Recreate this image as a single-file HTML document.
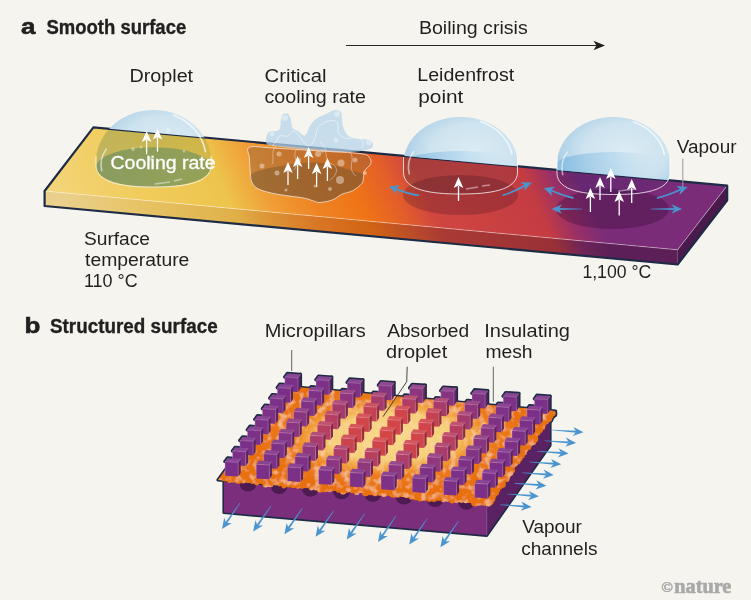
<!DOCTYPE html>
<html><head><meta charset="utf-8"><style>
html,body{margin:0;padding:0;background:#f6f4ee;}
svg{display:block;}
text{font-family:"Liberation Sans",sans-serif;}
</style></head><body>
<svg width="751" height="600" viewBox="0 0 751 600">
<rect width="751" height="600" fill="#f6f4ee"/>
<defs>
<linearGradient id="gTop" gradientUnits="userSpaceOnUse" x1="60" y1="200" x2="700" y2="-84">
 <stop offset="0" stop-color="#f3d478"/>
 <stop offset="0.1" stop-color="#f1cd5e"/>
 <stop offset="0.22" stop-color="#edc44c"/>
 <stop offset="0.27" stop-color="#f0a038"/>
 <stop offset="0.33" stop-color="#ef8424"/>
 <stop offset="0.39" stop-color="#ee7416"/>
 <stop offset="0.44" stop-color="#e35e2a"/>
 <stop offset="0.48" stop-color="#cf4640"/>
 <stop offset="0.62" stop-color="#c43c42"/>
 <stop offset="0.655" stop-color="#9a3066"/>
 <stop offset="0.69" stop-color="#7b2c78"/>
 <stop offset="1" stop-color="#7a2c78"/>
</linearGradient>
<linearGradient id="gFront" gradientUnits="userSpaceOnUse" x1="60" y1="200" x2="700" y2="-84">
 <stop offset="0" stop-color="#ead08c"/>
 <stop offset="0.1" stop-color="#e6c466"/>
 <stop offset="0.22" stop-color="#e0b048"/>
 <stop offset="0.27" stop-color="#dc9034"/>
 <stop offset="0.33" stop-color="#d87422"/>
 <stop offset="0.39" stop-color="#d06414"/>
 <stop offset="0.44" stop-color="#bc4c28"/>
 <stop offset="0.48" stop-color="#aa3a34"/>
 <stop offset="0.62" stop-color="#9a3036"/>
 <stop offset="0.655" stop-color="#6e2458"/>
 <stop offset="0.69" stop-color="#5c1f57"/>
 <stop offset="1" stop-color="#5a1d55"/>
</linearGradient>
<linearGradient id="gDomeOld" x1="0" y1="0" x2="1" y2="0.3">
 <stop offset="0" stop-color="#bcd8ea"/>
 <stop offset="0.5" stop-color="#d6e8f2"/>
 <stop offset="1" stop-color="#e4f0f6"/>
</linearGradient>
<radialGradient id="gPill" gradientUnits="userSpaceOnUse" cx="388" cy="432" r="125" gradientTransform="translate(388 432) scale(1 0.55) translate(-388 -432)">
 <stop offset="0" stop-color="#d44a48"/>
 <stop offset="0.35" stop-color="#c8445a"/>
 <stop offset="0.7" stop-color="#9a3a7a"/>
 <stop offset="1" stop-color="#7c3286"/>
</radialGradient>
<radialGradient id="gMesh" gradientUnits="userSpaceOnUse" cx="0" cy="0" r="1" gradientTransform="matrix(131 11.4 35.8 -50.7 391 437)">
 <stop offset="0" stop-color="#f8da8e"/>
 <stop offset="0.45" stop-color="#f6cf78"/>
 <stop offset="0.6" stop-color="#f2a440"/>
 <stop offset="0.75" stop-color="#ec7c1a"/>
 <stop offset="1" stop-color="#e8700f"/>
</radialGradient>
<filter id="mott" x="0" y="0" width="1" height="1" filterUnits="objectBoundingBox">
 <feTurbulence type="fractalNoise" baseFrequency="0.14" numOctaves="2" seed="4" result="n"/>
 <feColorMatrix in="n" type="matrix" values="0 0 0 0 0.97  0 0 0 0 0.70  0 0 0 0 0.40  0 0 0 1.8 -0.85" result="spots"/>
 <feComposite in="spots" in2="SourceGraphic" operator="in" result="s2"/>
 <feMerge><feMergeNode in="SourceGraphic"/><feMergeNode in="s2"/></feMerge>
</filter>
<radialGradient id="gDomeBg" cx="0.6" cy="0.45" r="0.62">
 <stop offset="0" stop-color="#dcecf4"/>
 <stop offset="0.6" stop-color="#cde3ef"/>
 <stop offset="1" stop-color="#a9cde6"/>
</radialGradient>
<linearGradient id="gBand" x1="0" y1="0" x2="1" y2="0">
 <stop offset="0" stop-color="#7fb8e0" stop-opacity="0.8"/>
 <stop offset="0.5" stop-color="#9ccae8" stop-opacity="0.45"/>
 <stop offset="1" stop-color="#cfe4f0" stop-opacity="0"/>
</linearGradient>
<linearGradient id="gDomeSl" x1="0" y1="0" x2="1" y2="0.4">
 <stop offset="0" stop-color="#c8dcec"/>
 <stop offset="1" stop-color="#e2eef6"/>
</linearGradient>
<clipPath id="clipBg"><polygon points="0,0 751,0 751,187.8 0,118.7"/></clipPath>
<clipPath id="clipSl"><polygon points="0,118.7 751,187.8 751,600 0,600"/></clipPath>
</defs>
<polygon points="44.6,191.0 677.6,249.8 677.6,264.5 44.6,206.0" fill="url(#gFront)"/>
<polygon points="677.6,249.8 727.2,185.6 727.2,200.3 677.6,264.5" fill="#4a1a4c"/>
<polygon points="93.4,127.3 727.2,185.6 677.6,249.8 44.6,191.0" fill="url(#gTop)"/>
<polyline points="44.6,191.0 677.6,249.8 727.2,185.6" fill="none" stroke="#ffffff" stroke-opacity="0.5" stroke-width="0.8"/>
<polygon points="93.4,127.3 727.2,185.6 727.2,200.3 677.6,264.5 44.6,206.0 44.6,191.0" fill="none" stroke="#1d2b45" stroke-width="2.2" stroke-linejoin="round"/>
<ellipse cx="153.6" cy="167.3" rx="57.6" ry="20" fill="#5f9466" opacity="0.5"/>
<path d="M96.0,162 A57.6,52 0 0 1 211.2,162 L211.2,165 C211.2,183.7 182.4,187.0 153.6,187.0 C124.8,187.0 96.0,183.7 96.0,165.0 Z" fill="url(#gDomeBg)" clip-path="url(#clipBg)"/>
<path d="M96.0,162 A57.6,52 0 0 1 211.2,162 L211.2,165 C211.2,183.7 182.4,187.0 153.6,187.0 C124.8,187.0 96.0,183.7 96.0,165.0 Z" fill="url(#gDomeSl)" clip-path="url(#clipSl)" style="mix-blend-mode:multiply"/>
<path d="M96.0,156 L96.0,165 C96.0,183.7 124.8,187.0 153.6,187.0 C182.4,187.0 211.2,183.7 211.2,165.0 L211.2,156" fill="none" stroke="#fff" stroke-opacity="0.85" stroke-width="0.9"/>
<path d="M173.76,115.19999999999999 A52.992000000000004,47.84 0 0 1 205.44,151.6" fill="none" stroke="#fff" stroke-opacity="0.7" stroke-width="1.6" stroke-linecap="round"/>
<path d="M101.75999999999999,170.75 Q98.88,159.4 106.368,149.0" fill="none" stroke="#fff" stroke-opacity="0.55" stroke-width="1.6" stroke-linecap="round"/>
<circle cx="133" cy="149" r="2" fill="#fff" opacity="0.35"/>
<circle cx="141" cy="147" r="1.5" fill="#fff" opacity="0.35"/>
<circle cx="184" cy="151" r="1.5" fill="#fff" opacity="0.35"/>
<circle cx="150" cy="159" r="2" fill="#fff" opacity="0.35"/>
<circle cx="168" cy="130" r="2" fill="#fff" opacity="0.35"/>
<path d="M155,184 L170,182 M174,181 L182,179" stroke="#fff" stroke-opacity="0.45" stroke-width="1.5"/>
<line x1="146.6" y1="154.3" x2="146.6" y2="140" stroke="#fff" stroke-width="1.3"/>
<polygon points="146.6,131.0 151.4,142.0 146.6,139.5 141.8,142.0" fill="#fff"/>
<line x1="157.5" y1="151.7" x2="157.5" y2="137.4" stroke="#fff" stroke-width="1.3"/>
<polygon points="157.5,128.4 162.3,139.4 157.5,136.9 152.7,139.4" fill="#fff"/>
<path d="M266.0,139.0 C266.3,137.0 266.8,133.5 269.0,132.0 C271.2,130.5 277.0,132.0 279.0,130.0 C281.0,128.0 280.3,122.6 281.0,120.0 C281.7,117.4 281.8,115.5 283.0,114.5 C284.2,113.5 286.7,113.1 288.0,114.0 C289.3,114.9 290.2,117.7 291.0,120.0 C291.8,122.3 291.3,126.2 292.5,128.0 C293.7,129.8 295.9,129.8 298.0,131.0 C300.1,132.2 303.0,136.3 305.0,135.5 C307.0,134.7 308.2,128.8 310.0,126.0 C311.8,123.2 313.3,121.0 316.0,119.0 C318.7,117.0 322.8,115.5 326.0,114.0 C329.2,112.5 332.5,110.3 335.0,110.0 C337.5,109.7 339.8,110.5 341.0,112.0 C342.2,113.5 341.6,116.3 342.0,119.0 C342.4,121.7 342.4,125.2 343.5,128.0 C344.6,130.8 345.8,134.2 348.5,136.0 C351.2,137.8 356.4,138.3 360.0,139.0 C363.6,139.7 367.8,139.0 370.0,140.0 C372.2,141.0 373.3,143.4 373.0,145.0 C372.7,146.6 372.7,148.3 368.0,149.5 C363.3,150.7 356.3,152.1 345.0,152.0 C333.7,151.9 311.8,150.0 300.0,149.0 C288.2,148.0 279.5,146.8 274.0,146.0 C268.5,145.2 268.3,145.2 267.0,144.0 C265.7,142.8 265.7,141.0 266.0,139.0 Z" fill="#b4d4ec" opacity="0.72"/>
<path d="M272,146 C280,140 276,134 284,136 C292,138 290,128 296,132 C302,138 306,150 312,144 C318,136 314,128 322,124 C330,118 340,120 338,128 C336,136 346,140 352,138 C360,136 366,142 362,148" fill="none" stroke="#fff" stroke-opacity="0.7" stroke-width="0.7"/>
<circle cx="285" cy="118" r="3" fill="#fff" opacity="0.35"/>
<circle cx="337" cy="114" r="3" fill="#fff" opacity="0.35"/>
<circle cx="369" cy="142" r="3" fill="#fff" opacity="0.35"/>
<circle cx="272" cy="134" r="2.5" fill="#fff" opacity="0.35"/>
<circle cx="336" cy="140" r="2.5" fill="#fff" opacity="0.35"/>
<circle cx="322" cy="152" r="2" fill="#fff" opacity="0.35"/>
<path d="M249.4,147.2 C253.3,145.5 261.2,147.4 273.0,148.0 C284.8,148.6 305.5,150.1 320.0,151.0 C334.5,151.9 351.8,152.6 360.0,153.6 C368.2,154.6 367.2,155.3 369.0,157.0 C370.8,158.7 371.6,161.2 370.8,163.5 C370.1,165.8 365.7,168.7 364.5,170.8 C363.3,172.9 364.1,173.9 363.6,176.0 C363.2,178.1 363.6,181.1 361.8,183.5 C360.0,185.9 356.0,188.9 352.7,190.7 C349.4,192.5 345.1,192.8 341.8,194.3 C338.5,195.8 336.4,198.4 332.8,199.8 C329.2,201.2 323.3,202.3 320.0,202.5 C316.7,202.7 315.5,201.4 312.8,200.7 C310.1,199.9 307.8,198.8 303.8,198.0 C299.8,197.2 294.1,196.8 289.0,196.0 C283.9,195.2 278.1,194.6 273.0,193.4 C267.9,192.2 262.0,190.8 258.5,189.0 C255.0,187.2 253.4,185.3 252.0,182.6 C250.6,179.9 250.7,176.7 250.3,172.6 C249.9,168.5 249.6,162.2 249.4,158.0 C249.2,153.8 245.5,148.9 249.4,147.2 Z" fill="#9a6438" opacity="0.5"/>
<path d="M251.0,174.4 C253.3,172.1 260.9,170.3 265.7,169.0 C270.5,167.7 274.6,167.2 280.0,166.3 C285.4,165.4 292.0,164.1 298.0,163.5 C304.0,162.9 309.9,162.3 316.0,162.6 C322.1,162.9 328.5,164.0 334.6,165.4 C340.7,166.8 347.9,169.3 352.7,170.8 C357.5,172.3 361.9,173.2 363.6,174.4 C365.3,175.6 363.3,176.5 363.0,178.0 C362.7,179.5 363.5,181.4 361.8,183.5 C360.1,185.6 356.0,188.9 352.7,190.7 C349.4,192.5 345.1,192.8 341.8,194.3 C338.5,195.8 336.4,198.4 332.8,199.8 C329.2,201.2 323.3,202.3 320.0,202.5 C316.7,202.7 315.5,201.4 312.8,200.7 C310.1,199.9 307.8,198.8 303.8,198.0 C299.8,197.2 294.1,196.8 289.0,196.0 C283.9,195.2 278.1,194.6 273.0,193.4 C267.9,192.2 262.0,190.8 258.5,189.0 C255.0,187.2 253.2,185.0 252.0,182.6 C250.8,180.2 248.7,176.7 251.0,174.4 Z" fill="#6e5030" opacity="0.42"/>
<path d="M249.4,147.2 C253.3,145.5 261.2,147.4 273.0,148.0 C284.8,148.6 305.5,150.1 320.0,151.0 C334.5,151.9 351.8,152.6 360.0,153.6 C368.2,154.6 367.2,155.3 369.0,157.0 C370.8,158.7 371.6,161.2 370.8,163.5 C370.1,165.8 365.7,168.7 364.5,170.8 C363.3,172.9 364.1,173.9 363.6,176.0 C363.2,178.1 363.6,181.1 361.8,183.5 C360.0,185.9 356.0,188.9 352.7,190.7 C349.4,192.5 345.1,192.8 341.8,194.3 C338.5,195.8 336.4,198.4 332.8,199.8 C329.2,201.2 323.3,202.3 320.0,202.5 C316.7,202.7 315.5,201.4 312.8,200.7 C310.1,199.9 307.8,198.8 303.8,198.0 C299.8,197.2 294.1,196.8 289.0,196.0 C283.9,195.2 278.1,194.6 273.0,193.4 C267.9,192.2 262.0,190.8 258.5,189.0 C255.0,187.2 253.4,185.3 252.0,182.6 C250.6,179.9 250.7,176.7 250.3,172.6 C249.9,168.5 249.6,162.2 249.4,158.0 C249.2,153.8 245.5,148.9 249.4,147.2 Z" fill="none" stroke="#fff" stroke-opacity="0.8" stroke-width="0.8"/>
<path d="M276,146 C270,152 275,160 272,164 M296,150 C292,158 300,162 294,170 M320,142 C330,148 322,160 332,164 C340,168 336,176 330,180 M350,152 C356,160 346,168 356,176" fill="none" stroke="#fff" stroke-opacity="0.55" stroke-width="0.7"/>
<circle cx="262" cy="166" r="2.5" fill="#fff" opacity="0.4"/>
<circle cx="279" cy="154" r="2.5" fill="#fff" opacity="0.4"/>
<circle cx="318" cy="154" r="3" fill="#fff" opacity="0.4"/>
<circle cx="341" cy="163" r="3.5" fill="#fff" opacity="0.4"/>
<circle cx="355" cy="160" r="2.5" fill="#fff" opacity="0.4"/>
<circle cx="277" cy="173" r="2.5" fill="#fff" opacity="0.4"/>
<circle cx="340" cy="180" r="4" fill="#fff" opacity="0.4"/>
<circle cx="286" cy="190" r="1.5" fill="#fff" opacity="0.4"/>
<circle cx="330" cy="189" r="2" fill="#fff" opacity="0.4"/>
<circle cx="315" cy="186" r="1.5" fill="#fff" opacity="0.4"/>
<circle cx="365" cy="173" r="2" fill="#fff" opacity="0.4"/>
<circle cx="299" cy="160" r="2" fill="#fff" opacity="0.4"/>
<line x1="288" y1="185" x2="288" y2="171" stroke="#fff" stroke-width="1.3"/>
<polygon points="288.0,162.0 292.8,173.0 288.0,170.5 283.2,173.0" fill="#fff"/>
<line x1="297.6" y1="179" x2="297.6" y2="165" stroke="#fff" stroke-width="1.3"/>
<polygon points="297.6,156.0 302.4,167.0 297.6,164.5 292.8,167.0" fill="#fff"/>
<line x1="308.6" y1="169" x2="308.6" y2="156" stroke="#fff" stroke-width="1.3"/>
<polygon points="308.6,147.0 313.4,158.0 308.6,155.5 303.8,158.0" fill="#fff"/>
<line x1="316.6" y1="187" x2="316.6" y2="172" stroke="#fff" stroke-width="1.3"/>
<polygon points="316.6,163.0 321.4,174.0 316.6,171.5 311.8,174.0" fill="#fff"/>
<line x1="327.4" y1="181" x2="327.4" y2="167" stroke="#fff" stroke-width="1.3"/>
<polygon points="327.4,158.0 332.2,169.0 327.4,166.5 322.6,169.0" fill="#fff"/>
<ellipse cx="460.5" cy="195" rx="57.5" ry="20" fill="rgba(60,15,30,0.25)"/>
<path d="M403.5,163 A57,46 0 0 1 517.5,163 L517.5,172 C517.5,190.7 489.0,194.0 460.5,194.0 C432.0,194.0 403.5,190.7 403.5,172.0 Z" fill="url(#gDomeBg)" clip-path="url(#clipBg)"/>
<path d="M403.5,163 A57,46 0 0 1 517.5,163 L517.5,172 C517.5,190.7 489.0,194.0 460.5,194.0 C432.0,194.0 403.5,190.7 403.5,172.0 Z" fill="url(#gDomeSl)" clip-path="url(#clipSl)" style="mix-blend-mode:multiply"/>
<path d="M403.5,163 A57,12 0 0 1 517.5,163 L517.5,172 C517.5,190.7 489.0,194.0 460.5,194.0 C432.0,194.0 403.5,190.7 403.5,172.0 Z" fill="url(#gBand)" clip-path="url(#clipBg)"/>
<path d="M403.5,157 L403.5,172 C403.5,190.7 432.0,194.0 460.5,194.0 C489.0,194.0 517.5,190.7 517.5,172.0 L517.5,157" fill="none" stroke="#fff" stroke-opacity="0.85" stroke-width="0.9"/>
<path d="M480.45,121.6 A52.440000000000005,42.32 0 0 1 511.8,153.8" fill="none" stroke="#fff" stroke-opacity="0.7" stroke-width="1.6" stroke-linecap="round"/>
<path d="M409.2,173.85 Q406.35,160.7 413.76,151.5" fill="none" stroke="#fff" stroke-opacity="0.55" stroke-width="1.6" stroke-linecap="round"/>
<line x1="458.5" y1="201" x2="458.5" y2="186" stroke="#fff" stroke-width="1.3"/>
<polygon points="458.5,177.0 463.3,188.0 458.5,185.5 453.7,188.0" fill="#fff"/>
<path d="M466,189 L478,187 M482,186 L490,185" stroke="#fff" stroke-opacity="0.45" stroke-width="1.6"/>
<path d="M419.0,195.4 Q408.5,194.0 395.7,188.8" fill="none" stroke="#4a95cf" stroke-width="1.8"/>
<polygon points="388.7,186.8 400.1,185.0 395.7,188.8 397.5,194.3" fill="#4a95cf"/>
<path d="M502.6,195.4 Q513.0,192.4 525.1,185.4" fill="none" stroke="#4a95cf" stroke-width="1.8"/>
<polygon points="531.8,182.4 524.2,191.1 525.1,185.4 520.3,182.3" fill="#4a95cf"/>
<ellipse cx="612.5" cy="209" rx="56.5" ry="20" fill="rgba(40,5,40,0.28)"/>
<path d="M557.0,164 A56.5,47 0 0 1 670.0,164 L670.0,173 C670.0,191.3 641.8,194.5 613.5,194.5 C585.2,194.5 557.0,191.3 557.0,173.0 Z" fill="url(#gDomeBg)" clip-path="url(#clipBg)"/>
<path d="M557.0,164 A56.5,47 0 0 1 670.0,164 L670.0,173 C670.0,191.3 641.8,194.5 613.5,194.5 C585.2,194.5 557.0,191.3 557.0,173.0 Z" fill="url(#gDomeSl)" clip-path="url(#clipSl)" style="mix-blend-mode:multiply"/>
<path d="M557.0,164 A56.5,12 0 0 1 670.0,164 L670.0,173 C670.0,191.3 641.8,194.5 613.5,194.5 C585.2,194.5 557.0,191.3 557.0,173.0 Z" fill="url(#gBand)" clip-path="url(#clipBg)"/>
<path d="M557.0,158 L557.0,173 C557.0,191.3 585.2,194.5 613.5,194.5 C641.8,194.5 670.0,191.3 670.0,173.0 L670.0,158" fill="none" stroke="#fff" stroke-opacity="0.85" stroke-width="0.9"/>
<path d="M633.275,121.69999999999999 A51.980000000000004,43.24 0 0 1 664.35,154.6" fill="none" stroke="#fff" stroke-opacity="0.7" stroke-width="1.6" stroke-linecap="round"/>
<path d="M562.65,174.675 Q559.825,161.65 567.17,152.25" fill="none" stroke="#fff" stroke-opacity="0.55" stroke-width="1.6" stroke-linecap="round"/>
<path d="M618,191 L636,189" stroke="#fff" stroke-opacity="0.45" stroke-width="1.4"/>
<line x1="590.4" y1="212" x2="590.4" y2="197" stroke="#fff" stroke-width="1.3"/>
<polygon points="590.4,188.0 595.2,199.0 590.4,196.5 585.6,199.0" fill="#fff"/>
<line x1="600" y1="200" x2="600" y2="186" stroke="#fff" stroke-width="1.3"/>
<polygon points="600.0,177.0 604.8,188.0 600.0,185.5 595.2,188.0" fill="#fff"/>
<line x1="610.8" y1="192" x2="610.8" y2="177" stroke="#fff" stroke-width="1.3"/>
<polygon points="610.8,168.0 615.6,179.0 610.8,176.5 606.0,179.0" fill="#fff"/>
<line x1="619.2" y1="215.5" x2="619.2" y2="200" stroke="#fff" stroke-width="1.3"/>
<polygon points="619.2,191.0 624.0,202.0 619.2,199.5 614.4,202.0" fill="#fff"/>
<line x1="631.7" y1="203" x2="631.7" y2="188" stroke="#fff" stroke-width="1.3"/>
<polygon points="631.7,179.0 636.5,190.0 631.7,187.5 626.9,190.0" fill="#fff"/>
<path d="M573.5,198.0 Q563.2,195.8 550.7,190.3" fill="none" stroke="#4a95cf" stroke-width="1.8"/>
<polygon points="543.8,188.0 555.3,186.8 550.7,190.3 552.2,195.9" fill="#4a95cf"/>
<polygon points="582.0,208.7 558.8,208.0 558.8,210.0 582.0,209.3" fill="#4a95cf"/>
<polygon points="551.5,209.0 562.0,204.2 558.8,209.0 562.0,213.8" fill="#4a95cf"/>
<path d="M657.0,198.0 Q667.8,195.4 680.8,189.5" fill="none" stroke="#4a95cf" stroke-width="1.8"/>
<polygon points="687.7,187.0 679.4,195.1 680.8,189.5 676.2,186.0" fill="#4a95cf"/>
<polygon points="650.4,209.3 674.7,210.0 674.7,208.0 650.4,208.7" fill="#4a95cf"/>
<polygon points="682.0,209.0 671.5,213.8 674.7,209.0 671.5,204.2" fill="#4a95cf"/>
<line x1="682.8" y1="158.5" x2="682.8" y2="187" stroke="#9a9a9a" stroke-width="1"/>
<line x1="346" y1="45.5" x2="597" y2="45.5" stroke="#2b2828" stroke-width="1.1"/>
<polygon points="605,45.5 593.5,40.8 596.5,45.5 593.5,50.2" fill="#231f20"/>
<g fill="#1d2b45" stroke="#1d2b45" stroke-width="3.2" stroke-linejoin="round"><polygon points="224.0,482.0 486.7,503.0 550.0,417.0 550.0,445.3 486.7,535.3 224.0,512.5"/><polygon points="218.0,480.0 488.5,504.5 555.5,411.0 286.0,386.0"/><circle cx="486.6" cy="503.1" r="2.5"/><circle cx="490.2" cy="501.4" r="3.5"/><circle cx="492.3" cy="498.7" r="3.2"/><circle cx="493.5" cy="495.2" r="3.1"/><circle cx="496.3" cy="493.0" r="2.7"/><circle cx="497.7" cy="489.7" r="2.6"/><circle cx="500.2" cy="487.2" r="2.2"/><circle cx="502.1" cy="484.2" r="3.7"/><circle cx="502.8" cy="480.5" r="3.1"/><circle cx="506.1" cy="478.5" r="3.6"/><circle cx="508.0" cy="475.6" r="2.6"/><circle cx="509.7" cy="472.5" r="3.7"/><circle cx="512.7" cy="470.4" r="2.4"/><circle cx="513.1" cy="466.4" r="2.4"/><circle cx="515.0" cy="463.5" r="2.9"/><circle cx="517.3" cy="460.8" r="3.6"/><circle cx="520.3" cy="458.7" r="2.4"/><circle cx="522.1" cy="455.7" r="2.7"/><circle cx="524.1" cy="452.8" r="2.6"/><circle cx="525.5" cy="449.5" r="2.5"/><circle cx="527.9" cy="446.9" r="3.3"/><circle cx="530.3" cy="444.4" r="2.3"/><circle cx="532.6" cy="441.7" r="3.6"/><circle cx="534.8" cy="439.0" r="3.5"/><circle cx="535.3" cy="435.1" r="2.9"/><circle cx="537.4" cy="432.3" r="3.4"/><circle cx="539.7" cy="429.7" r="3.3"/><circle cx="541.9" cy="426.9" r="3.3"/><circle cx="544.0" cy="424.2" r="2.3"/><circle cx="546.2" cy="421.5" r="2.7"/><circle cx="549.2" cy="419.3" r="2.7"/><circle cx="550.5" cy="415.9" r="3.1"/><circle cx="553.4" cy="413.7" r="2.4"/><polygon points="225.0,461.5 238.2,462.4 238.2,476.6 225.0,475.7 240.7,458.8 240.7,473.0"/><polygon points="225.0,461.5 227.5,457.9 240.7,458.8 238.2,462.4"/><polygon points="256.2,464.2 269.4,465.1 269.4,479.3 256.2,478.4 271.9,461.5 271.9,475.7"/><polygon points="256.2,464.2 258.7,460.6 271.9,461.5 269.4,465.1"/><polygon points="287.4,466.9 300.6,467.8 300.6,482.0 287.4,481.1 303.1,464.2 303.1,478.4"/><polygon points="287.4,466.9 289.9,463.3 303.1,464.2 300.6,467.8"/><polygon points="318.6,469.7 331.8,470.6 331.8,484.8 318.6,483.9 334.3,467.0 334.3,481.2"/><polygon points="318.6,469.7 321.1,466.1 334.3,467.0 331.8,470.6"/><polygon points="349.8,472.4 363.0,473.3 363.0,487.5 349.8,486.6 365.5,469.7 365.5,483.9"/><polygon points="349.8,472.4 352.3,468.8 365.5,469.7 363.0,473.3"/><polygon points="381.0,475.1 394.2,476.0 394.2,490.2 381.0,489.3 396.7,472.4 396.7,486.6"/><polygon points="381.0,475.1 383.5,471.5 396.7,472.4 394.2,476.0"/><polygon points="412.2,477.8 425.4,478.7 425.4,492.9 412.2,492.0 427.9,475.1 427.9,489.3"/><polygon points="412.2,477.8 414.7,474.2 427.9,475.1 425.4,478.7"/><polygon points="443.4,480.5 456.6,481.4 456.6,495.6 443.4,494.7 459.1,477.8 459.1,492.0"/><polygon points="443.4,480.5 445.9,476.9 459.1,477.8 456.6,481.4"/><polygon points="474.6,483.3 487.8,484.2 487.8,498.4 474.6,497.5 490.3,480.6 490.3,494.8"/><polygon points="474.6,483.3 477.1,479.7 490.3,480.6 487.8,484.2"/><polygon points="232.5,450.9 245.7,451.8 245.7,466.0 232.5,465.1 248.2,448.2 248.2,462.4"/><polygon points="232.5,450.9 235.0,447.3 248.2,448.2 245.7,451.8"/><polygon points="263.7,453.7 276.9,454.6 276.9,468.8 263.7,467.9 279.4,451.0 279.4,465.2"/><polygon points="263.7,453.7 266.2,450.1 279.4,451.0 276.9,454.6"/><polygon points="294.9,456.4 308.1,457.3 308.1,471.5 294.9,470.6 310.6,453.7 310.6,467.9"/><polygon points="294.9,456.4 297.4,452.8 310.6,453.7 308.1,457.3"/><polygon points="326.1,459.1 339.3,460.0 339.3,474.2 326.1,473.3 341.8,456.4 341.8,470.6"/><polygon points="326.1,459.1 328.6,455.5 341.8,456.4 339.3,460.0"/><polygon points="357.3,461.8 370.5,462.7 370.5,476.9 357.3,476.0 373.0,459.1 373.0,473.3"/><polygon points="357.3,461.8 359.8,458.2 373.0,459.1 370.5,462.7"/><polygon points="388.5,464.5 401.7,465.4 401.7,479.6 388.5,478.7 404.2,461.8 404.2,476.0"/><polygon points="388.5,464.5 391.0,460.9 404.2,461.8 401.7,465.4"/><polygon points="419.7,467.3 432.9,468.2 432.9,482.4 419.7,481.5 435.4,464.6 435.4,478.8"/><polygon points="419.7,467.3 422.2,463.7 435.4,464.6 432.9,468.2"/><polygon points="450.9,470.0 464.1,470.9 464.1,485.1 450.9,484.2 466.6,467.3 466.6,481.5"/><polygon points="450.9,470.0 453.4,466.4 466.6,467.3 464.1,470.9"/><polygon points="482.1,472.7 495.3,473.6 495.3,487.8 482.1,486.9 497.8,470.0 497.8,484.2"/><polygon points="482.1,472.7 484.6,469.1 497.8,470.0 495.3,473.6"/><polygon points="239.9,440.4 253.1,441.3 253.1,455.5 239.9,454.6 255.6,437.7 255.6,451.9"/><polygon points="239.9,440.4 242.4,436.8 255.6,437.7 253.1,441.3"/><polygon points="271.1,443.1 284.3,444.0 284.3,458.2 271.1,457.3 286.8,440.4 286.8,454.6"/><polygon points="271.1,443.1 273.6,439.5 286.8,440.4 284.3,444.0"/><polygon points="302.3,445.8 315.5,446.7 315.5,460.9 302.3,460.0 318.0,443.1 318.0,457.3"/><polygon points="302.3,445.8 304.8,442.2 318.0,443.1 315.5,446.7"/><polygon points="333.5,448.5 346.7,449.4 346.7,463.6 333.5,462.7 349.2,445.8 349.2,460.0"/><polygon points="333.5,448.5 336.0,444.9 349.2,445.8 346.7,449.4"/><polygon points="364.7,451.3 377.9,452.2 377.9,466.4 364.7,465.5 380.4,448.6 380.4,462.8"/><polygon points="364.7,451.3 367.2,447.7 380.4,448.6 377.9,452.2"/><polygon points="395.9,454.0 409.1,454.9 409.1,469.1 395.9,468.2 411.6,451.3 411.6,465.5"/><polygon points="395.9,454.0 398.4,450.4 411.6,451.3 409.1,454.9"/><polygon points="427.1,456.7 440.3,457.6 440.3,471.8 427.1,470.9 442.8,454.0 442.8,468.2"/><polygon points="427.1,456.7 429.6,453.1 442.8,454.0 440.3,457.6"/><polygon points="458.3,459.4 471.5,460.3 471.5,474.5 458.3,473.6 474.0,456.7 474.0,470.9"/><polygon points="458.3,459.4 460.8,455.8 474.0,456.7 471.5,460.3"/><polygon points="489.5,462.1 502.7,463.0 502.7,477.2 489.5,476.3 505.2,459.4 505.2,473.6"/><polygon points="489.5,462.1 492.0,458.5 505.2,459.4 502.7,463.0"/><polygon points="247.4,429.8 260.6,430.7 260.6,444.9 247.4,444.0 263.1,427.1 263.1,441.3"/><polygon points="247.4,429.8 249.9,426.2 263.1,427.1 260.6,430.7"/><polygon points="278.6,432.5 291.8,433.4 291.8,447.6 278.6,446.7 294.3,429.8 294.3,444.0"/><polygon points="278.6,432.5 281.1,428.9 294.3,429.8 291.8,433.4"/><polygon points="309.8,435.3 323.0,436.2 323.0,450.4 309.8,449.5 325.5,432.6 325.5,446.8"/><polygon points="309.8,435.3 312.3,431.7 325.5,432.6 323.0,436.2"/><polygon points="341.0,438.0 354.2,438.9 354.2,453.1 341.0,452.2 356.7,435.3 356.7,449.5"/><polygon points="341.0,438.0 343.5,434.4 356.7,435.3 354.2,438.9"/><polygon points="372.2,440.7 385.4,441.6 385.4,455.8 372.2,454.9 387.9,438.0 387.9,452.2"/><polygon points="372.2,440.7 374.7,437.1 387.9,438.0 385.4,441.6"/><polygon points="403.4,443.4 416.6,444.3 416.6,458.5 403.4,457.6 419.1,440.7 419.1,454.9"/><polygon points="403.4,443.4 405.9,439.8 419.1,440.7 416.6,444.3"/><polygon points="434.6,446.1 447.8,447.0 447.8,461.2 434.6,460.3 450.3,443.4 450.3,457.6"/><polygon points="434.6,446.1 437.1,442.5 450.3,443.4 447.8,447.0"/><polygon points="465.8,448.9 479.0,449.8 479.0,464.0 465.8,463.1 481.5,446.2 481.5,460.4"/><polygon points="465.8,448.9 468.3,445.3 481.5,446.2 479.0,449.8"/><polygon points="497.0,451.6 510.2,452.5 510.2,466.7 497.0,465.8 512.7,448.9 512.7,463.1"/><polygon points="497.0,451.6 499.5,448.0 512.7,448.9 510.2,452.5"/><polygon points="254.9,419.3 268.1,420.2 268.1,434.4 254.9,433.5 270.6,416.6 270.6,430.8"/><polygon points="254.9,419.3 257.4,415.7 270.6,416.6 268.1,420.2"/><polygon points="286.1,422.0 299.3,422.9 299.3,437.1 286.1,436.2 301.8,419.3 301.8,433.5"/><polygon points="286.1,422.0 288.6,418.4 301.8,419.3 299.3,422.9"/><polygon points="317.3,424.7 330.5,425.6 330.5,439.8 317.3,438.9 333.0,422.0 333.0,436.2"/><polygon points="317.3,424.7 319.8,421.1 333.0,422.0 330.5,425.6"/><polygon points="348.5,427.4 361.7,428.3 361.7,442.5 348.5,441.6 364.2,424.7 364.2,438.9"/><polygon points="348.5,427.4 351.0,423.8 364.2,424.7 361.7,428.3"/><polygon points="379.7,430.1 392.9,431.0 392.9,445.2 379.7,444.3 395.4,427.4 395.4,441.6"/><polygon points="379.7,430.1 382.2,426.5 395.4,427.4 392.9,431.0"/><polygon points="410.9,432.9 424.1,433.8 424.1,448.0 410.9,447.1 426.6,430.2 426.6,444.4"/><polygon points="410.9,432.9 413.4,429.3 426.6,430.2 424.1,433.8"/><polygon points="442.1,435.6 455.3,436.5 455.3,450.7 442.1,449.8 457.8,432.9 457.8,447.1"/><polygon points="442.1,435.6 444.6,432.0 457.8,432.9 455.3,436.5"/><polygon points="473.3,438.3 486.5,439.2 486.5,453.4 473.3,452.5 489.0,435.6 489.0,449.8"/><polygon points="473.3,438.3 475.8,434.7 489.0,435.6 486.5,439.2"/><polygon points="504.5,441.0 517.7,441.9 517.7,456.1 504.5,455.2 520.2,438.3 520.2,452.5"/><polygon points="504.5,441.0 507.0,437.4 520.2,438.3 517.7,441.9"/><polygon points="262.4,408.7 275.6,409.6 275.6,423.8 262.4,422.9 278.1,406.0 278.1,420.2"/><polygon points="262.4,408.7 264.9,405.1 278.1,406.0 275.6,409.6"/><polygon points="293.6,411.4 306.8,412.3 306.8,426.5 293.6,425.6 309.2,408.7 309.2,422.9"/><polygon points="293.6,411.4 296.1,407.8 309.2,408.7 306.8,412.3"/><polygon points="324.8,414.1 337.9,415.0 337.9,429.2 324.8,428.3 340.4,411.4 340.4,425.6"/><polygon points="324.8,414.1 327.2,410.5 340.4,411.4 337.9,415.0"/><polygon points="356.0,416.9 369.2,417.8 369.2,432.0 356.0,431.1 371.7,414.2 371.7,428.4"/><polygon points="356.0,416.9 358.5,413.3 371.7,414.2 369.2,417.8"/><polygon points="387.2,419.6 400.4,420.5 400.4,434.7 387.2,433.8 402.9,416.9 402.9,431.1"/><polygon points="387.2,419.6 389.7,416.0 402.9,416.9 400.4,420.5"/><polygon points="418.4,422.3 431.6,423.2 431.6,437.4 418.4,436.5 434.1,419.6 434.1,433.8"/><polygon points="418.4,422.3 420.9,418.7 434.1,419.6 431.6,423.2"/><polygon points="449.6,425.0 462.8,425.9 462.8,440.1 449.6,439.2 465.2,422.3 465.2,436.5"/><polygon points="449.6,425.0 452.1,421.4 465.2,422.3 462.8,425.9"/><polygon points="480.8,427.7 493.9,428.6 493.9,442.8 480.8,441.9 496.4,425.0 496.4,439.2"/><polygon points="480.8,427.7 483.2,424.1 496.4,425.0 493.9,428.6"/><polygon points="512.0,430.5 525.2,431.4 525.2,445.6 512.0,444.7 527.7,427.8 527.7,442.0"/><polygon points="512.0,430.5 514.5,426.9 527.7,427.8 525.2,431.4"/><polygon points="269.8,398.1 283.0,399.0 283.0,413.2 269.8,412.3 285.5,395.4 285.5,409.6"/><polygon points="269.8,398.1 272.3,394.5 285.5,395.4 283.0,399.0"/><polygon points="301.0,400.9 314.2,401.8 314.2,416.0 301.0,415.1 316.7,398.2 316.7,412.4"/><polygon points="301.0,400.9 303.5,397.3 316.7,398.2 314.2,401.8"/><polygon points="332.2,403.6 345.4,404.5 345.4,418.7 332.2,417.8 347.9,400.9 347.9,415.1"/><polygon points="332.2,403.6 334.7,400.0 347.9,400.9 345.4,404.5"/><polygon points="363.4,406.3 376.6,407.2 376.6,421.4 363.4,420.5 379.1,403.6 379.1,417.8"/><polygon points="363.4,406.3 365.9,402.7 379.1,403.6 376.6,407.2"/><polygon points="394.6,409.0 407.8,409.9 407.8,424.1 394.6,423.2 410.3,406.3 410.3,420.5"/><polygon points="394.6,409.0 397.1,405.4 410.3,406.3 407.8,409.9"/><polygon points="425.8,411.7 439.0,412.6 439.0,426.8 425.8,425.9 441.5,409.0 441.5,423.2"/><polygon points="425.8,411.7 428.3,408.1 441.5,409.0 439.0,412.6"/><polygon points="457.0,414.5 470.2,415.4 470.2,429.6 457.0,428.7 472.7,411.8 472.7,426.0"/><polygon points="457.0,414.5 459.5,410.9 472.7,411.8 470.2,415.4"/><polygon points="488.2,417.2 501.4,418.1 501.4,432.3 488.2,431.4 503.9,414.5 503.9,428.7"/><polygon points="488.2,417.2 490.7,413.6 503.9,414.5 501.4,418.1"/><polygon points="519.4,419.9 532.6,420.8 532.6,435.0 519.4,434.1 535.1,417.2 535.1,431.4"/><polygon points="519.4,419.9 521.9,416.3 535.1,417.2 532.6,420.8"/><polygon points="277.3,387.6 290.5,388.5 290.5,402.7 277.3,401.8 293.0,384.9 293.0,399.1"/><polygon points="277.3,387.6 279.8,384.0 293.0,384.9 290.5,388.5"/><polygon points="308.5,390.3 321.7,391.2 321.7,405.4 308.5,404.5 324.2,387.6 324.2,401.8"/><polygon points="308.5,390.3 311.0,386.7 324.2,387.6 321.7,391.2"/><polygon points="339.7,393.0 352.9,393.9 352.9,408.1 339.7,407.2 355.4,390.3 355.4,404.5"/><polygon points="339.7,393.0 342.2,389.4 355.4,390.3 352.9,393.9"/><polygon points="370.9,395.7 384.1,396.6 384.1,410.8 370.9,409.9 386.6,393.0 386.6,407.2"/><polygon points="370.9,395.7 373.4,392.1 386.6,393.0 384.1,396.6"/><polygon points="402.1,398.5 415.3,399.4 415.3,413.6 402.1,412.7 417.8,395.8 417.8,410.0"/><polygon points="402.1,398.5 404.6,394.9 417.8,395.8 415.3,399.4"/><polygon points="433.3,401.2 446.5,402.1 446.5,416.3 433.3,415.4 449.0,398.5 449.0,412.7"/><polygon points="433.3,401.2 435.8,397.6 449.0,398.5 446.5,402.1"/><polygon points="464.5,403.9 477.7,404.8 477.7,419.0 464.5,418.1 480.2,401.2 480.2,415.4"/><polygon points="464.5,403.9 467.0,400.3 480.2,401.2 477.7,404.8"/><polygon points="495.7,406.6 508.9,407.5 508.9,421.7 495.7,420.8 511.4,403.9 511.4,418.1"/><polygon points="495.7,406.6 498.2,403.0 511.4,403.9 508.9,407.5"/><polygon points="526.9,409.3 540.1,410.2 540.1,424.4 526.9,423.5 542.6,406.6 542.6,420.8"/><polygon points="526.9,409.3 529.4,405.7 542.6,406.6 540.1,410.2"/><polygon points="284.8,377.0 298.0,377.9 298.0,392.1 284.8,391.2 300.5,374.3 300.5,388.5"/><polygon points="284.8,377.0 287.3,373.4 300.5,374.3 298.0,377.9"/><polygon points="316.0,379.7 329.2,380.6 329.2,394.8 316.0,393.9 331.7,377.0 331.7,391.2"/><polygon points="316.0,379.7 318.5,376.1 331.7,377.0 329.2,380.6"/><polygon points="347.2,382.5 360.4,383.4 360.4,397.6 347.2,396.7 362.9,379.8 362.9,394.0"/><polygon points="347.2,382.5 349.7,378.9 362.9,379.8 360.4,383.4"/><polygon points="378.4,385.2 391.6,386.1 391.6,400.3 378.4,399.4 394.1,382.5 394.1,396.7"/><polygon points="378.4,385.2 380.9,381.6 394.1,382.5 391.6,386.1"/><polygon points="409.6,387.9 422.8,388.8 422.8,403.0 409.6,402.1 425.3,385.2 425.3,399.4"/><polygon points="409.6,387.9 412.1,384.3 425.3,385.2 422.8,388.8"/><polygon points="440.8,390.6 454.0,391.5 454.0,405.7 440.8,404.8 456.5,387.9 456.5,402.1"/><polygon points="440.8,390.6 443.3,387.0 456.5,387.9 454.0,391.5"/><polygon points="472.0,393.3 485.2,394.2 485.2,408.4 472.0,407.5 487.7,390.6 487.7,404.8"/><polygon points="472.0,393.3 474.5,389.7 487.7,390.6 485.2,394.2"/><polygon points="503.2,396.1 516.4,397.0 516.4,411.2 503.2,410.3 518.9,393.4 518.9,407.6"/><polygon points="503.2,396.1 505.7,392.5 518.9,393.4 516.4,397.0"/><polygon points="534.4,398.8 547.6,399.7 547.6,413.9 534.4,413.0 550.1,396.1 550.1,410.3"/><polygon points="534.4,398.8 536.9,395.2 550.1,396.1 547.6,399.7"/></g>
<polygon points="224.0,482.0 486.7,503.0 486.7,535.3 224.0,512.5" fill="#7a2e7c"/>
<polygon points="486.7,503.0 550.0,417.0 550.0,445.3 486.7,535.3" fill="#5a2262"/>
<line x1="486.7" y1="503" x2="486.7" y2="535.3" stroke="#c080c0" stroke-width="0.8" opacity="0.6"/>
<path d="M239.5,483.5 A8.5,8 0 0 0 256.5,483.5 Z" fill="#4e1a52"/>
<path d="M270.7,486.1 A8.5,8 0 0 0 287.7,486.1 Z" fill="#4e1a52"/>
<path d="M301.9,488.7 A8.5,8 0 0 0 318.9,488.7 Z" fill="#4e1a52"/>
<path d="M333.1,491.3 A8.5,8 0 0 0 350.1,491.3 Z" fill="#4e1a52"/>
<path d="M364.3,493.9 A8.5,8 0 0 0 381.3,493.9 Z" fill="#4e1a52"/>
<path d="M395.5,496.5 A8.5,8 0 0 0 412.5,496.5 Z" fill="#4e1a52"/>
<path d="M426.7,499.1 A8.5,8 0 0 0 443.7,499.1 Z" fill="#4e1a52"/>
<path d="M457.9,501.7 A8.5,8 0 0 0 474.9,501.7 Z" fill="#4e1a52"/>
<g filter="url(#mott)"><g fill="url(#gMesh)"><polygon points="218.0,480.0 488.5,504.5 555.5,411.0 286.0,386.0"/><circle cx="225.0" cy="478.3" r="3.3"/><circle cx="229.4" cy="479.9" r="3.0"/><circle cx="234.1" cy="479.3" r="3.5"/><circle cx="238.5" cy="481.1" r="3.0"/><circle cx="243.1" cy="480.8" r="2.6"/><circle cx="247.7" cy="480.0" r="2.8"/><circle cx="252.2" cy="481.8" r="2.3"/><circle cx="256.7" cy="482.7" r="2.6"/><circle cx="261.3" cy="481.8" r="2.3"/><circle cx="265.7" cy="484.0" r="3.4"/><circle cx="270.3" cy="484.1" r="3.2"/><circle cx="275.0" cy="482.5" r="2.7"/><circle cx="279.5" cy="484.1" r="2.4"/><circle cx="283.9" cy="485.6" r="2.8"/><circle cx="288.6" cy="484.1" r="3.5"/><circle cx="293.2" cy="484.4" r="3.7"/><circle cx="297.7" cy="485.6" r="3.1"/><circle cx="302.2" cy="485.7" r="3.0"/><circle cx="306.8" cy="485.8" r="2.3"/><circle cx="311.2" cy="487.8" r="2.6"/><circle cx="315.8" cy="488.0" r="2.5"/><circle cx="320.3" cy="488.9" r="3.6"/><circle cx="324.9" cy="488.8" r="3.4"/><circle cx="329.5" cy="488.8" r="3.4"/><circle cx="334.1" cy="488.1" r="3.0"/><circle cx="338.5" cy="490.2" r="2.5"/><circle cx="343.0" cy="490.8" r="3.6"/><circle cx="347.7" cy="490.0" r="2.8"/><circle cx="352.2" cy="490.5" r="2.8"/><circle cx="356.7" cy="492.2" r="2.8"/><circle cx="361.4" cy="490.3" r="2.3"/><circle cx="365.8" cy="492.4" r="3.8"/><circle cx="370.4" cy="492.3" r="3.0"/><circle cx="374.9" cy="492.8" r="3.4"/><circle cx="379.6" cy="492.5" r="3.2"/><circle cx="384.0" cy="493.7" r="3.2"/><circle cx="388.7" cy="493.2" r="2.5"/><circle cx="393.2" cy="494.0" r="3.7"/><circle cx="397.7" cy="494.4" r="3.2"/><circle cx="402.3" cy="494.7" r="2.4"/><circle cx="406.9" cy="494.6" r="3.5"/><circle cx="411.3" cy="496.7" r="2.8"/><circle cx="415.8" cy="496.9" r="3.3"/><circle cx="420.3" cy="497.8" r="3.7"/><circle cx="425.0" cy="497.0" r="3.8"/><circle cx="429.4" cy="498.8" r="3.1"/><circle cx="434.0" cy="499.0" r="3.0"/><circle cx="438.6" cy="498.2" r="2.6"/><circle cx="443.1" cy="499.8" r="2.5"/><circle cx="447.8" cy="498.3" r="3.5"/><circle cx="452.2" cy="500.4" r="3.0"/><circle cx="456.7" cy="500.9" r="2.3"/><circle cx="461.4" cy="500.0" r="2.7"/><circle cx="465.9" cy="500.8" r="2.5"/><circle cx="470.5" cy="500.3" r="2.7"/><circle cx="474.9" cy="502.7" r="3.8"/><circle cx="479.5" cy="502.8" r="3.0"/><circle cx="484.1" cy="502.0" r="3.7"/><circle cx="488.6" cy="503.1" r="3.4"/><circle cx="486.6" cy="503.1" r="2.5"/><circle cx="490.2" cy="501.4" r="3.5"/><circle cx="492.3" cy="498.7" r="3.2"/><circle cx="493.5" cy="495.2" r="3.1"/><circle cx="496.3" cy="493.0" r="2.7"/><circle cx="497.7" cy="489.7" r="2.6"/><circle cx="500.2" cy="487.2" r="2.2"/><circle cx="502.1" cy="484.2" r="3.7"/><circle cx="502.8" cy="480.5" r="3.1"/><circle cx="506.1" cy="478.5" r="3.6"/><circle cx="508.0" cy="475.6" r="2.6"/><circle cx="509.7" cy="472.5" r="3.7"/><circle cx="512.7" cy="470.4" r="2.4"/><circle cx="513.1" cy="466.4" r="2.4"/><circle cx="515.0" cy="463.5" r="2.9"/><circle cx="517.3" cy="460.8" r="3.6"/><circle cx="520.3" cy="458.7" r="2.4"/><circle cx="522.1" cy="455.7" r="2.7"/><circle cx="524.1" cy="452.8" r="2.6"/><circle cx="525.5" cy="449.5" r="2.5"/><circle cx="527.9" cy="446.9" r="3.3"/><circle cx="530.3" cy="444.4" r="2.3"/><circle cx="532.6" cy="441.7" r="3.6"/><circle cx="534.8" cy="439.0" r="3.5"/><circle cx="535.3" cy="435.1" r="2.9"/><circle cx="537.4" cy="432.3" r="3.4"/><circle cx="539.7" cy="429.7" r="3.3"/><circle cx="541.9" cy="426.9" r="3.3"/><circle cx="544.0" cy="424.2" r="2.3"/><circle cx="546.2" cy="421.5" r="2.7"/><circle cx="549.2" cy="419.3" r="2.7"/><circle cx="550.5" cy="415.9" r="3.1"/><circle cx="553.4" cy="413.7" r="2.4"/></g></g>
<polygon points="284.8,377.0 298.0,377.9 298.0,392.1 284.8,391.2" fill="#7a3088"/>
<polygon points="298.0,377.9 300.5,374.3 300.5,388.5 298.0,392.1" fill="#582362"/>
<polygon points="284.8,377.0 287.3,373.4 300.5,374.3 298.0,377.9" fill="#874594"/>
<polyline points="284.8,391.2 284.8,377.0 298.0,377.9 300.5,374.3" fill="none" stroke="#f4b8e4" stroke-opacity="0.5" stroke-width="0.6"/>
<line x1="298.0" y1="377.9" x2="298.0" y2="392.1" stroke="#f4b8e4" stroke-opacity="0.5" stroke-width="0.6"/>
<polygon points="316.0,379.7 329.2,380.6 329.2,394.8 316.0,393.9" fill="#7b3187"/>
<polygon points="329.2,380.6 331.7,377.0 331.7,391.2 329.2,394.8" fill="#592362"/>
<polygon points="316.0,379.7 318.5,376.1 331.7,377.0 329.2,380.6" fill="#884593"/>
<polyline points="316.0,393.9 316.0,379.7 329.2,380.6 331.7,377.0" fill="none" stroke="#f4b8e4" stroke-opacity="0.5" stroke-width="0.6"/>
<line x1="329.2" y1="380.6" x2="329.2" y2="394.8" stroke="#f4b8e4" stroke-opacity="0.5" stroke-width="0.6"/>
<polygon points="347.2,382.5 360.4,383.4 360.4,397.6 347.2,396.7" fill="#7d3286"/>
<polygon points="360.4,383.4 362.9,379.8 362.9,394.0 360.4,397.6" fill="#5a2461"/>
<polygon points="347.2,382.5 349.7,378.9 362.9,379.8 360.4,383.4" fill="#8a4692"/>
<polyline points="347.2,396.7 347.2,382.5 360.4,383.4 362.9,379.8" fill="none" stroke="#f4b8e4" stroke-opacity="0.5" stroke-width="0.6"/>
<line x1="360.4" y1="383.4" x2="360.4" y2="397.6" stroke="#f4b8e4" stroke-opacity="0.5" stroke-width="0.6"/>
<polygon points="378.4,385.2 391.6,386.1 391.6,400.3 378.4,399.4" fill="#853482"/>
<polygon points="391.6,386.1 394.1,382.5 394.1,396.7 391.6,400.3" fill="#60255e"/>
<polygon points="378.4,385.2 380.9,381.6 394.1,382.5 391.6,386.1" fill="#92488e"/>
<polyline points="378.4,399.4 378.4,385.2 391.6,386.1 394.1,382.5" fill="none" stroke="#f4b8e4" stroke-opacity="0.5" stroke-width="0.6"/>
<line x1="391.6" y1="386.1" x2="391.6" y2="400.3" stroke="#f4b8e4" stroke-opacity="0.5" stroke-width="0.6"/>
<polygon points="409.6,387.9 422.8,388.8 422.8,403.0 409.6,402.1" fill="#8b367f"/>
<polygon points="422.8,388.8 425.3,385.2 425.3,399.4 422.8,403.0" fill="#64275b"/>
<polygon points="409.6,387.9 412.1,384.3 425.3,385.2 422.8,388.8" fill="#974a8c"/>
<polyline points="409.6,402.1 409.6,387.9 422.8,388.8 425.3,385.2" fill="none" stroke="#f4b8e4" stroke-opacity="0.5" stroke-width="0.6"/>
<line x1="422.8" y1="388.8" x2="422.8" y2="403.0" stroke="#f4b8e4" stroke-opacity="0.5" stroke-width="0.6"/>
<polygon points="440.8,390.6 454.0,391.5 454.0,405.7 440.8,404.8" fill="#853482"/>
<polygon points="454.0,391.5 456.5,387.9 456.5,402.1 454.0,405.7" fill="#60255e"/>
<polygon points="440.8,390.6 443.3,387.0 456.5,387.9 454.0,391.5" fill="#92488e"/>
<polyline points="440.8,404.8 440.8,390.6 454.0,391.5 456.5,387.9" fill="none" stroke="#f4b8e4" stroke-opacity="0.5" stroke-width="0.6"/>
<line x1="454.0" y1="391.5" x2="454.0" y2="405.7" stroke="#f4b8e4" stroke-opacity="0.5" stroke-width="0.6"/>
<polygon points="472.0,393.3 485.2,394.2 485.2,408.4 472.0,407.5" fill="#7d3286"/>
<polygon points="485.2,394.2 487.7,390.6 487.7,404.8 485.2,408.4" fill="#5a2461"/>
<polygon points="472.0,393.3 474.5,389.7 487.7,390.6 485.2,394.2" fill="#8a4692"/>
<polyline points="472.0,407.5 472.0,393.3 485.2,394.2 487.7,390.6" fill="none" stroke="#f4b8e4" stroke-opacity="0.5" stroke-width="0.6"/>
<line x1="485.2" y1="394.2" x2="485.2" y2="408.4" stroke="#f4b8e4" stroke-opacity="0.5" stroke-width="0.6"/>
<polygon points="503.2,396.1 516.4,397.0 516.4,411.2 503.2,410.3" fill="#7b3187"/>
<polygon points="516.4,397.0 518.9,393.4 518.9,407.6 516.4,411.2" fill="#592362"/>
<polygon points="503.2,396.1 505.7,392.5 518.9,393.4 516.4,397.0" fill="#884593"/>
<polyline points="503.2,410.3 503.2,396.1 516.4,397.0 518.9,393.4" fill="none" stroke="#f4b8e4" stroke-opacity="0.5" stroke-width="0.6"/>
<line x1="516.4" y1="397.0" x2="516.4" y2="411.2" stroke="#f4b8e4" stroke-opacity="0.5" stroke-width="0.6"/>
<polygon points="534.4,398.8 547.6,399.7 547.6,413.9 534.4,413.0" fill="#7a3088"/>
<polygon points="547.6,399.7 550.1,396.1 550.1,410.3 547.6,413.9" fill="#582362"/>
<polygon points="534.4,398.8 536.9,395.2 550.1,396.1 547.6,399.7" fill="#874594"/>
<polyline points="534.4,413.0 534.4,398.8 547.6,399.7 550.1,396.1" fill="none" stroke="#f4b8e4" stroke-opacity="0.5" stroke-width="0.6"/>
<line x1="547.6" y1="399.7" x2="547.6" y2="413.9" stroke="#f4b8e4" stroke-opacity="0.5" stroke-width="0.6"/>
<polygon points="277.3,387.6 290.5,388.5 290.5,402.7 277.3,401.8" fill="#7a3088"/>
<polygon points="290.5,388.5 293.0,384.9 293.0,399.1 290.5,402.7" fill="#582362"/>
<polygon points="277.3,387.6 279.8,384.0 293.0,384.9 290.5,388.5" fill="#874594"/>
<polyline points="277.3,401.8 277.3,387.6 290.5,388.5 293.0,384.9" fill="none" stroke="#f4b8e4" stroke-opacity="0.5" stroke-width="0.6"/>
<line x1="290.5" y1="388.5" x2="290.5" y2="402.7" stroke="#f4b8e4" stroke-opacity="0.5" stroke-width="0.6"/>
<polygon points="308.5,390.3 321.7,391.2 321.7,405.4 308.5,404.5" fill="#7d3187"/>
<polygon points="321.7,391.2 324.2,387.6 324.2,401.8 321.7,405.4" fill="#5a2461"/>
<polygon points="308.5,390.3 311.0,386.7 324.2,387.6 321.7,391.2" fill="#8a4693"/>
<polyline points="308.5,404.5 308.5,390.3 321.7,391.2 324.2,387.6" fill="none" stroke="#f4b8e4" stroke-opacity="0.5" stroke-width="0.6"/>
<line x1="321.7" y1="391.2" x2="321.7" y2="405.4" stroke="#f4b8e4" stroke-opacity="0.5" stroke-width="0.6"/>
<polygon points="339.7,393.0 352.9,393.9 352.9,408.1 339.7,407.2" fill="#8d367e"/>
<polygon points="352.9,393.9 355.4,390.3 355.4,404.5 352.9,408.1" fill="#65275b"/>
<polygon points="339.7,393.0 342.2,389.4 355.4,390.3 352.9,393.9" fill="#984a8b"/>
<polyline points="339.7,407.2 339.7,393.0 352.9,393.9 355.4,390.3" fill="none" stroke="#f4b8e4" stroke-opacity="0.5" stroke-width="0.6"/>
<line x1="352.9" y1="393.9" x2="352.9" y2="408.1" stroke="#f4b8e4" stroke-opacity="0.5" stroke-width="0.6"/>
<polygon points="370.9,395.7 384.1,396.6 384.1,410.8 370.9,409.9" fill="#a63b6c"/>
<polygon points="384.1,396.6 386.6,393.0 386.6,407.2 384.1,410.8" fill="#782b4e"/>
<polygon points="370.9,395.7 373.4,392.1 386.6,393.0 384.1,396.6" fill="#af4f7b"/>
<polyline points="370.9,409.9 370.9,395.7 384.1,396.6 386.6,393.0" fill="none" stroke="#f4b8e4" stroke-opacity="0.5" stroke-width="0.6"/>
<line x1="384.1" y1="396.6" x2="384.1" y2="410.8" stroke="#f4b8e4" stroke-opacity="0.5" stroke-width="0.6"/>
<polygon points="402.1,398.5 415.3,399.4 415.3,413.6 402.1,412.7" fill="#b13d64"/>
<polygon points="415.3,399.4 417.8,395.8 417.8,410.0 415.3,413.6" fill="#802c48"/>
<polygon points="402.1,398.5 404.6,394.9 417.8,395.8 415.3,399.4" fill="#b95174"/>
<polyline points="402.1,412.7 402.1,398.5 415.3,399.4 417.8,395.8" fill="none" stroke="#f4b8e4" stroke-opacity="0.5" stroke-width="0.6"/>
<line x1="415.3" y1="399.4" x2="415.3" y2="413.6" stroke="#f4b8e4" stroke-opacity="0.5" stroke-width="0.6"/>
<polygon points="433.3,401.2 446.5,402.1 446.5,416.3 433.3,415.4" fill="#a63b6c"/>
<polygon points="446.5,402.1 449.0,398.5 449.0,412.7 446.5,416.3" fill="#782b4e"/>
<polygon points="433.3,401.2 435.8,397.6 449.0,398.5 446.5,402.1" fill="#af4f7b"/>
<polyline points="433.3,415.4 433.3,401.2 446.5,402.1 449.0,398.5" fill="none" stroke="#f4b8e4" stroke-opacity="0.5" stroke-width="0.6"/>
<line x1="446.5" y1="402.1" x2="446.5" y2="416.3" stroke="#f4b8e4" stroke-opacity="0.5" stroke-width="0.6"/>
<polygon points="464.5,403.9 477.7,404.8 477.7,419.0 464.5,418.1" fill="#8d367e"/>
<polygon points="477.7,404.8 480.2,401.2 480.2,415.4 477.7,419.0" fill="#65275b"/>
<polygon points="464.5,403.9 467.0,400.3 480.2,401.2 477.7,404.8" fill="#984a8b"/>
<polyline points="464.5,418.1 464.5,403.9 477.7,404.8 480.2,401.2" fill="none" stroke="#f4b8e4" stroke-opacity="0.5" stroke-width="0.6"/>
<line x1="477.7" y1="404.8" x2="477.7" y2="419.0" stroke="#f4b8e4" stroke-opacity="0.5" stroke-width="0.6"/>
<polygon points="495.7,406.6 508.9,407.5 508.9,421.7 495.7,420.8" fill="#7d3187"/>
<polygon points="508.9,407.5 511.4,403.9 511.4,418.1 508.9,421.7" fill="#5a2461"/>
<polygon points="495.7,406.6 498.2,403.0 511.4,403.9 508.9,407.5" fill="#8a4693"/>
<polyline points="495.7,420.8 495.7,406.6 508.9,407.5 511.4,403.9" fill="none" stroke="#f4b8e4" stroke-opacity="0.5" stroke-width="0.6"/>
<line x1="508.9" y1="407.5" x2="508.9" y2="421.7" stroke="#f4b8e4" stroke-opacity="0.5" stroke-width="0.6"/>
<polygon points="526.9,409.3 540.1,410.2 540.1,424.4 526.9,423.5" fill="#7a3088"/>
<polygon points="540.1,410.2 542.6,406.6 542.6,420.8 540.1,424.4" fill="#582362"/>
<polygon points="526.9,409.3 529.4,405.7 542.6,406.6 540.1,410.2" fill="#874594"/>
<polyline points="526.9,423.5 526.9,409.3 540.1,410.2 542.6,406.6" fill="none" stroke="#f4b8e4" stroke-opacity="0.5" stroke-width="0.6"/>
<line x1="540.1" y1="410.2" x2="540.1" y2="424.4" stroke="#f4b8e4" stroke-opacity="0.5" stroke-width="0.6"/>
<polygon points="269.8,398.1 283.0,399.0 283.0,413.2 269.8,412.3" fill="#7b3187"/>
<polygon points="283.0,399.0 285.5,395.4 285.5,409.6 283.0,413.2" fill="#592362"/>
<polygon points="269.8,398.1 272.3,394.5 285.5,395.4 283.0,399.0" fill="#884593"/>
<polyline points="269.8,412.3 269.8,398.1 283.0,399.0 285.5,395.4" fill="none" stroke="#f4b8e4" stroke-opacity="0.5" stroke-width="0.6"/>
<line x1="283.0" y1="399.0" x2="283.0" y2="413.2" stroke="#f4b8e4" stroke-opacity="0.5" stroke-width="0.6"/>
<polygon points="301.0,400.9 314.2,401.8 314.2,416.0 301.0,415.1" fill="#803385"/>
<polygon points="314.2,401.8 316.7,398.2 316.7,412.4 314.2,416.0" fill="#5c2460"/>
<polygon points="301.0,400.9 303.5,397.3 316.7,398.2 314.2,401.8" fill="#8d4791"/>
<polyline points="301.0,415.1 301.0,400.9 314.2,401.8 316.7,398.2" fill="none" stroke="#f4b8e4" stroke-opacity="0.5" stroke-width="0.6"/>
<line x1="314.2" y1="401.8" x2="314.2" y2="416.0" stroke="#f4b8e4" stroke-opacity="0.5" stroke-width="0.6"/>
<polygon points="332.2,403.6 345.4,404.5 345.4,418.7 332.2,417.8" fill="#a53b6d"/>
<polygon points="345.4,404.5 347.9,400.9 347.9,415.1 345.4,418.7" fill="#772b4f"/>
<polygon points="332.2,403.6 334.7,400.0 347.9,400.9 345.4,404.5" fill="#ae4f7c"/>
<polyline points="332.2,417.8 332.2,403.6 345.4,404.5 347.9,400.9" fill="none" stroke="#f4b8e4" stroke-opacity="0.5" stroke-width="0.6"/>
<line x1="345.4" y1="404.5" x2="345.4" y2="418.7" stroke="#f4b8e4" stroke-opacity="0.5" stroke-width="0.6"/>
<polygon points="363.4,406.3 376.6,407.2 376.6,421.4 363.4,420.5" fill="#c54253"/>
<polygon points="376.6,407.2 379.1,403.6 379.1,417.8 376.6,421.4" fill="#8e303c"/>
<polygon points="363.4,406.3 365.9,402.7 379.1,403.6 376.6,407.2" fill="#cb5564"/>
<polyline points="363.4,420.5 363.4,406.3 376.6,407.2 379.1,403.6" fill="none" stroke="#f4b8e4" stroke-opacity="0.5" stroke-width="0.6"/>
<line x1="376.6" y1="407.2" x2="376.6" y2="421.4" stroke="#f4b8e4" stroke-opacity="0.5" stroke-width="0.6"/>
<polygon points="394.6,409.0 407.8,409.9 407.8,424.1 394.6,423.2" fill="#cf444b"/>
<polygon points="407.8,409.9 410.3,406.3 410.3,420.5 407.8,424.1" fill="#953136"/>
<polygon points="394.6,409.0 397.1,405.4 410.3,406.3 407.8,409.9" fill="#d4575d"/>
<polyline points="394.6,423.2 394.6,409.0 407.8,409.9 410.3,406.3" fill="none" stroke="#f4b8e4" stroke-opacity="0.5" stroke-width="0.6"/>
<line x1="407.8" y1="409.9" x2="407.8" y2="424.1" stroke="#f4b8e4" stroke-opacity="0.5" stroke-width="0.6"/>
<polygon points="425.8,411.7 439.0,412.6 439.0,426.8 425.8,425.9" fill="#c54253"/>
<polygon points="439.0,412.6 441.5,409.0 441.5,423.2 439.0,426.8" fill="#8e303c"/>
<polygon points="425.8,411.7 428.3,408.1 441.5,409.0 439.0,412.6" fill="#cb5564"/>
<polyline points="425.8,425.9 425.8,411.7 439.0,412.6 441.5,409.0" fill="none" stroke="#f4b8e4" stroke-opacity="0.5" stroke-width="0.6"/>
<line x1="439.0" y1="412.6" x2="439.0" y2="426.8" stroke="#f4b8e4" stroke-opacity="0.5" stroke-width="0.6"/>
<polygon points="457.0,414.5 470.2,415.4 470.2,429.6 457.0,428.7" fill="#a53b6d"/>
<polygon points="470.2,415.4 472.7,411.8 472.7,426.0 470.2,429.6" fill="#772b4f"/>
<polygon points="457.0,414.5 459.5,410.9 472.7,411.8 470.2,415.4" fill="#ae4f7c"/>
<polyline points="457.0,428.7 457.0,414.5 470.2,415.4 472.7,411.8" fill="none" stroke="#f4b8e4" stroke-opacity="0.5" stroke-width="0.6"/>
<line x1="470.2" y1="415.4" x2="470.2" y2="429.6" stroke="#f4b8e4" stroke-opacity="0.5" stroke-width="0.6"/>
<polygon points="488.2,417.2 501.4,418.1 501.4,432.3 488.2,431.4" fill="#803385"/>
<polygon points="501.4,418.1 503.9,414.5 503.9,428.7 501.4,432.3" fill="#5c2460"/>
<polygon points="488.2,417.2 490.7,413.6 503.9,414.5 501.4,418.1" fill="#8d4791"/>
<polyline points="488.2,431.4 488.2,417.2 501.4,418.1 503.9,414.5" fill="none" stroke="#f4b8e4" stroke-opacity="0.5" stroke-width="0.6"/>
<line x1="501.4" y1="418.1" x2="501.4" y2="432.3" stroke="#f4b8e4" stroke-opacity="0.5" stroke-width="0.6"/>
<polygon points="519.4,419.9 532.6,420.8 532.6,435.0 519.4,434.1" fill="#7b3187"/>
<polygon points="532.6,420.8 535.1,417.2 535.1,431.4 532.6,435.0" fill="#592362"/>
<polygon points="519.4,419.9 521.9,416.3 535.1,417.2 532.6,420.8" fill="#884593"/>
<polyline points="519.4,434.1 519.4,419.9 532.6,420.8 535.1,417.2" fill="none" stroke="#f4b8e4" stroke-opacity="0.5" stroke-width="0.6"/>
<line x1="532.6" y1="420.8" x2="532.6" y2="435.0" stroke="#f4b8e4" stroke-opacity="0.5" stroke-width="0.6"/>
<polygon points="262.4,408.7 275.6,409.6 275.6,423.8 262.4,422.9" fill="#7c3187"/>
<polygon points="275.6,409.6 278.1,406.0 278.1,420.2 275.6,423.8" fill="#592361"/>
<polygon points="262.4,408.7 264.9,405.1 278.1,406.0 275.6,409.6" fill="#894593"/>
<polyline points="262.4,422.9 262.4,408.7 275.6,409.6 278.1,406.0" fill="none" stroke="#f4b8e4" stroke-opacity="0.5" stroke-width="0.6"/>
<line x1="275.6" y1="409.6" x2="275.6" y2="423.8" stroke="#f4b8e4" stroke-opacity="0.5" stroke-width="0.6"/>
<polygon points="293.6,411.4 306.8,412.3 306.8,426.5 293.6,425.6" fill="#893580"/>
<polygon points="306.8,412.3 309.2,408.7 309.2,422.9 306.8,426.5" fill="#63265c"/>
<polygon points="293.6,411.4 296.1,407.8 309.2,408.7 306.8,412.3" fill="#95498d"/>
<polyline points="293.6,425.6 293.6,411.4 306.8,412.3 309.2,408.7" fill="none" stroke="#f4b8e4" stroke-opacity="0.5" stroke-width="0.6"/>
<line x1="306.8" y1="412.3" x2="306.8" y2="426.5" stroke="#f4b8e4" stroke-opacity="0.5" stroke-width="0.6"/>
<polygon points="324.8,414.1 337.9,415.0 337.9,429.2 324.8,428.3" fill="#b53e61"/>
<polygon points="337.9,415.0 340.4,411.4 340.4,425.6 337.9,429.2" fill="#822d46"/>
<polygon points="324.8,414.1 327.2,410.5 340.4,411.4 337.9,415.0" fill="#bd5271"/>
<polyline points="324.8,428.3 324.8,414.1 337.9,415.0 340.4,411.4" fill="none" stroke="#f4b8e4" stroke-opacity="0.5" stroke-width="0.6"/>
<line x1="337.9" y1="415.0" x2="337.9" y2="429.2" stroke="#f4b8e4" stroke-opacity="0.5" stroke-width="0.6"/>
<polygon points="356.0,416.9 369.2,417.8 369.2,432.0 356.0,431.1" fill="#d0444a"/>
<polygon points="369.2,417.8 371.7,414.2 371.7,428.4 369.2,432.0" fill="#963135"/>
<polygon points="356.0,416.9 358.5,413.3 371.7,414.2 369.2,417.8" fill="#d5575c"/>
<polyline points="356.0,431.1 356.0,416.9 369.2,417.8 371.7,414.2" fill="none" stroke="#f4b8e4" stroke-opacity="0.5" stroke-width="0.6"/>
<line x1="369.2" y1="417.8" x2="369.2" y2="432.0" stroke="#f4b8e4" stroke-opacity="0.5" stroke-width="0.6"/>
<polygon points="387.2,419.6 400.4,420.5 400.4,434.7 387.2,433.8" fill="#d34547"/>
<polygon points="400.4,420.5 402.9,416.9 402.9,431.1 400.4,434.7" fill="#983233"/>
<polygon points="387.2,419.6 389.7,416.0 402.9,416.9 400.4,420.5" fill="#d85859"/>
<polyline points="387.2,433.8 387.2,419.6 400.4,420.5 402.9,416.9" fill="none" stroke="#f4b8e4" stroke-opacity="0.5" stroke-width="0.6"/>
<line x1="400.4" y1="420.5" x2="400.4" y2="434.7" stroke="#f4b8e4" stroke-opacity="0.5" stroke-width="0.6"/>
<polygon points="418.4,422.3 431.6,423.2 431.6,437.4 418.4,436.5" fill="#d0444a"/>
<polygon points="431.6,423.2 434.1,419.6 434.1,433.8 431.6,437.4" fill="#963135"/>
<polygon points="418.4,422.3 420.9,418.7 434.1,419.6 431.6,423.2" fill="#d5575c"/>
<polyline points="418.4,436.5 418.4,422.3 431.6,423.2 434.1,419.6" fill="none" stroke="#f4b8e4" stroke-opacity="0.5" stroke-width="0.6"/>
<line x1="431.6" y1="423.2" x2="431.6" y2="437.4" stroke="#f4b8e4" stroke-opacity="0.5" stroke-width="0.6"/>
<polygon points="449.6,425.0 462.8,425.9 462.8,440.1 449.6,439.2" fill="#b53e61"/>
<polygon points="462.8,425.9 465.2,422.3 465.2,436.5 462.8,440.1" fill="#822d46"/>
<polygon points="449.6,425.0 452.1,421.4 465.2,422.3 462.8,425.9" fill="#bd5271"/>
<polyline points="449.6,439.2 449.6,425.0 462.8,425.9 465.2,422.3" fill="none" stroke="#f4b8e4" stroke-opacity="0.5" stroke-width="0.6"/>
<line x1="462.8" y1="425.9" x2="462.8" y2="440.1" stroke="#f4b8e4" stroke-opacity="0.5" stroke-width="0.6"/>
<polygon points="480.8,427.7 493.9,428.6 493.9,442.8 480.8,441.9" fill="#893580"/>
<polygon points="493.9,428.6 496.4,425.0 496.4,439.2 493.9,442.8" fill="#63265c"/>
<polygon points="480.8,427.7 483.2,424.1 496.4,425.0 493.9,428.6" fill="#95498d"/>
<polyline points="480.8,441.9 480.8,427.7 493.9,428.6 496.4,425.0" fill="none" stroke="#f4b8e4" stroke-opacity="0.5" stroke-width="0.6"/>
<line x1="493.9" y1="428.6" x2="493.9" y2="442.8" stroke="#f4b8e4" stroke-opacity="0.5" stroke-width="0.6"/>
<polygon points="512.0,430.5 525.2,431.4 525.2,445.6 512.0,444.7" fill="#7c3187"/>
<polygon points="525.2,431.4 527.7,427.8 527.7,442.0 525.2,445.6" fill="#592361"/>
<polygon points="512.0,430.5 514.5,426.9 527.7,427.8 525.2,431.4" fill="#894593"/>
<polyline points="512.0,444.7 512.0,430.5 525.2,431.4 527.7,427.8" fill="none" stroke="#f4b8e4" stroke-opacity="0.5" stroke-width="0.6"/>
<line x1="525.2" y1="431.4" x2="525.2" y2="445.6" stroke="#f4b8e4" stroke-opacity="0.5" stroke-width="0.6"/>
<polygon points="254.9,419.3 268.1,420.2 268.1,434.4 254.9,433.5" fill="#7c3187"/>
<polygon points="268.1,420.2 270.6,416.6 270.6,430.8 268.1,434.4" fill="#592361"/>
<polygon points="254.9,419.3 257.4,415.7 270.6,416.6 268.1,420.2" fill="#894693"/>
<polyline points="254.9,433.5 254.9,419.3 268.1,420.2 270.6,416.6" fill="none" stroke="#f4b8e4" stroke-opacity="0.5" stroke-width="0.6"/>
<line x1="268.1" y1="420.2" x2="268.1" y2="434.4" stroke="#f4b8e4" stroke-opacity="0.5" stroke-width="0.6"/>
<polygon points="286.1,422.0 299.3,422.9 299.3,437.1 286.1,436.2" fill="#8a3580"/>
<polygon points="299.3,422.9 301.8,419.3 301.8,433.5 299.3,437.1" fill="#63265c"/>
<polygon points="286.1,422.0 288.6,418.4 301.8,419.3 299.3,422.9" fill="#96498c"/>
<polyline points="286.1,436.2 286.1,422.0 299.3,422.9 301.8,419.3" fill="none" stroke="#f4b8e4" stroke-opacity="0.5" stroke-width="0.6"/>
<line x1="299.3" y1="422.9" x2="299.3" y2="437.1" stroke="#f4b8e4" stroke-opacity="0.5" stroke-width="0.6"/>
<polygon points="317.3,424.7 330.5,425.6 330.5,439.8 317.3,438.9" fill="#b73f60"/>
<polygon points="330.5,425.6 333.0,422.0 333.0,436.2 330.5,439.8" fill="#832d45"/>
<polygon points="317.3,424.7 319.8,421.1 333.0,422.0 330.5,425.6" fill="#be5270"/>
<polyline points="317.3,438.9 317.3,424.7 330.5,425.6 333.0,422.0" fill="none" stroke="#f4b8e4" stroke-opacity="0.5" stroke-width="0.6"/>
<line x1="330.5" y1="425.6" x2="330.5" y2="439.8" stroke="#f4b8e4" stroke-opacity="0.5" stroke-width="0.6"/>
<polygon points="348.5,427.4 361.7,428.3 361.7,442.5 348.5,441.6" fill="#d0454a"/>
<polygon points="361.7,428.3 364.2,424.7 364.2,438.9 361.7,442.5" fill="#963135"/>
<polygon points="348.5,427.4 351.0,423.8 364.2,424.7 361.7,428.3" fill="#d5575c"/>
<polyline points="348.5,441.6 348.5,427.4 361.7,428.3 364.2,424.7" fill="none" stroke="#f4b8e4" stroke-opacity="0.5" stroke-width="0.6"/>
<line x1="361.7" y1="428.3" x2="361.7" y2="442.5" stroke="#f4b8e4" stroke-opacity="0.5" stroke-width="0.6"/>
<polygon points="379.7,430.1 392.9,431.0 392.9,445.2 379.7,444.3" fill="#d44646"/>
<polygon points="392.9,431.0 395.4,427.4 395.4,441.6 392.9,445.2" fill="#993232"/>
<polygon points="379.7,430.1 382.2,426.5 395.4,427.4 392.9,431.0" fill="#d85858"/>
<polyline points="379.7,444.3 379.7,430.1 392.9,431.0 395.4,427.4" fill="none" stroke="#f4b8e4" stroke-opacity="0.5" stroke-width="0.6"/>
<line x1="392.9" y1="431.0" x2="392.9" y2="445.2" stroke="#f4b8e4" stroke-opacity="0.5" stroke-width="0.6"/>
<polygon points="410.9,432.9 424.1,433.8 424.1,448.0 410.9,447.1" fill="#d0454a"/>
<polygon points="424.1,433.8 426.6,430.2 426.6,444.4 424.1,448.0" fill="#963135"/>
<polygon points="410.9,432.9 413.4,429.3 426.6,430.2 424.1,433.8" fill="#d5575c"/>
<polyline points="410.9,447.1 410.9,432.9 424.1,433.8 426.6,430.2" fill="none" stroke="#f4b8e4" stroke-opacity="0.5" stroke-width="0.6"/>
<line x1="424.1" y1="433.8" x2="424.1" y2="448.0" stroke="#f4b8e4" stroke-opacity="0.5" stroke-width="0.6"/>
<polygon points="442.1,435.6 455.3,436.5 455.3,450.7 442.1,449.8" fill="#b73f60"/>
<polygon points="455.3,436.5 457.8,432.9 457.8,447.1 455.3,450.7" fill="#832d45"/>
<polygon points="442.1,435.6 444.6,432.0 457.8,432.9 455.3,436.5" fill="#be5270"/>
<polyline points="442.1,449.8 442.1,435.6 455.3,436.5 457.8,432.9" fill="none" stroke="#f4b8e4" stroke-opacity="0.5" stroke-width="0.6"/>
<line x1="455.3" y1="436.5" x2="455.3" y2="450.7" stroke="#f4b8e4" stroke-opacity="0.5" stroke-width="0.6"/>
<polygon points="473.3,438.3 486.5,439.2 486.5,453.4 473.3,452.5" fill="#8a3580"/>
<polygon points="486.5,439.2 489.0,435.6 489.0,449.8 486.5,453.4" fill="#63265c"/>
<polygon points="473.3,438.3 475.8,434.7 489.0,435.6 486.5,439.2" fill="#96498c"/>
<polyline points="473.3,452.5 473.3,438.3 486.5,439.2 489.0,435.6" fill="none" stroke="#f4b8e4" stroke-opacity="0.5" stroke-width="0.6"/>
<line x1="486.5" y1="439.2" x2="486.5" y2="453.4" stroke="#f4b8e4" stroke-opacity="0.5" stroke-width="0.6"/>
<polygon points="504.5,441.0 517.7,441.9 517.7,456.1 504.5,455.2" fill="#7c3187"/>
<polygon points="517.7,441.9 520.2,438.3 520.2,452.5 517.7,456.1" fill="#592361"/>
<polygon points="504.5,441.0 507.0,437.4 520.2,438.3 517.7,441.9" fill="#894693"/>
<polyline points="504.5,455.2 504.5,441.0 517.7,441.9 520.2,438.3" fill="none" stroke="#f4b8e4" stroke-opacity="0.5" stroke-width="0.6"/>
<line x1="517.7" y1="441.9" x2="517.7" y2="456.1" stroke="#f4b8e4" stroke-opacity="0.5" stroke-width="0.6"/>
<polygon points="247.4,429.8 260.6,430.7 260.6,444.9 247.4,444.0" fill="#7b3187"/>
<polygon points="260.6,430.7 263.1,427.1 263.1,441.3 260.6,444.9" fill="#592361"/>
<polygon points="247.4,429.8 249.9,426.2 263.1,427.1 260.6,430.7" fill="#884593"/>
<polyline points="247.4,444.0 247.4,429.8 260.6,430.7 263.1,427.1" fill="none" stroke="#f4b8e4" stroke-opacity="0.5" stroke-width="0.6"/>
<line x1="260.6" y1="430.7" x2="260.6" y2="444.9" stroke="#f4b8e4" stroke-opacity="0.5" stroke-width="0.6"/>
<polygon points="278.6,432.5 291.8,433.4 291.8,447.6 278.6,446.7" fill="#833383"/>
<polygon points="291.8,433.4 294.3,429.8 294.3,444.0 291.8,447.6" fill="#5e255f"/>
<polygon points="278.6,432.5 281.1,428.9 294.3,429.8 291.8,433.4" fill="#8f4890"/>
<polyline points="278.6,446.7 278.6,432.5 291.8,433.4 294.3,429.8" fill="none" stroke="#f4b8e4" stroke-opacity="0.5" stroke-width="0.6"/>
<line x1="291.8" y1="433.4" x2="291.8" y2="447.6" stroke="#f4b8e4" stroke-opacity="0.5" stroke-width="0.6"/>
<polygon points="309.8,435.3 323.0,436.2 323.0,450.4 309.8,449.5" fill="#a93c6a"/>
<polygon points="323.0,436.2 325.5,432.6 325.5,446.8 323.0,450.4" fill="#7a2b4c"/>
<polygon points="309.8,435.3 312.3,431.7 325.5,432.6 323.0,436.2" fill="#b24f79"/>
<polyline points="309.8,449.5 309.8,435.3 323.0,436.2 325.5,432.6" fill="none" stroke="#f4b8e4" stroke-opacity="0.5" stroke-width="0.6"/>
<line x1="323.0" y1="436.2" x2="323.0" y2="450.4" stroke="#f4b8e4" stroke-opacity="0.5" stroke-width="0.6"/>
<polygon points="341.0,438.0 354.2,438.9 354.2,453.1 341.0,452.2" fill="#cb434f"/>
<polygon points="354.2,438.9 356.7,435.3 356.7,449.5 354.2,453.1" fill="#923039"/>
<polygon points="341.0,438.0 343.5,434.4 356.7,435.3 354.2,438.9" fill="#d05661"/>
<polyline points="341.0,452.2 341.0,438.0 354.2,438.9 356.7,435.3" fill="none" stroke="#f4b8e4" stroke-opacity="0.5" stroke-width="0.6"/>
<line x1="354.2" y1="438.9" x2="354.2" y2="453.1" stroke="#f4b8e4" stroke-opacity="0.5" stroke-width="0.6"/>
<polygon points="372.2,440.7 385.4,441.6 385.4,455.8 372.2,454.9" fill="#d0444a"/>
<polygon points="385.4,441.6 387.9,438.0 387.9,452.2 385.4,455.8" fill="#953136"/>
<polygon points="372.2,440.7 374.7,437.1 387.9,438.0 385.4,441.6" fill="#d4575c"/>
<polyline points="372.2,454.9 372.2,440.7 385.4,441.6 387.9,438.0" fill="none" stroke="#f4b8e4" stroke-opacity="0.5" stroke-width="0.6"/>
<line x1="385.4" y1="441.6" x2="385.4" y2="455.8" stroke="#f4b8e4" stroke-opacity="0.5" stroke-width="0.6"/>
<polygon points="403.4,443.4 416.6,444.3 416.6,458.5 403.4,457.6" fill="#cb434f"/>
<polygon points="416.6,444.3 419.1,440.7 419.1,454.9 416.6,458.5" fill="#923039"/>
<polygon points="403.4,443.4 405.9,439.8 419.1,440.7 416.6,444.3" fill="#d05661"/>
<polyline points="403.4,457.6 403.4,443.4 416.6,444.3 419.1,440.7" fill="none" stroke="#f4b8e4" stroke-opacity="0.5" stroke-width="0.6"/>
<line x1="416.6" y1="444.3" x2="416.6" y2="458.5" stroke="#f4b8e4" stroke-opacity="0.5" stroke-width="0.6"/>
<polygon points="434.6,446.1 447.8,447.0 447.8,461.2 434.6,460.3" fill="#a93c6a"/>
<polygon points="447.8,447.0 450.3,443.4 450.3,457.6 447.8,461.2" fill="#7a2b4c"/>
<polygon points="434.6,446.1 437.1,442.5 450.3,443.4 447.8,447.0" fill="#b24f79"/>
<polyline points="434.6,460.3 434.6,446.1 447.8,447.0 450.3,443.4" fill="none" stroke="#f4b8e4" stroke-opacity="0.5" stroke-width="0.6"/>
<line x1="447.8" y1="447.0" x2="447.8" y2="461.2" stroke="#f4b8e4" stroke-opacity="0.5" stroke-width="0.6"/>
<polygon points="465.8,448.9 479.0,449.8 479.0,464.0 465.8,463.1" fill="#833383"/>
<polygon points="479.0,449.8 481.5,446.2 481.5,460.4 479.0,464.0" fill="#5e255f"/>
<polygon points="465.8,448.9 468.3,445.3 481.5,446.2 479.0,449.8" fill="#8f4890"/>
<polyline points="465.8,463.1 465.8,448.9 479.0,449.8 481.5,446.2" fill="none" stroke="#f4b8e4" stroke-opacity="0.5" stroke-width="0.6"/>
<line x1="479.0" y1="449.8" x2="479.0" y2="464.0" stroke="#f4b8e4" stroke-opacity="0.5" stroke-width="0.6"/>
<polygon points="497.0,451.6 510.2,452.5 510.2,466.7 497.0,465.8" fill="#7b3187"/>
<polygon points="510.2,452.5 512.7,448.9 512.7,463.1 510.2,466.7" fill="#592361"/>
<polygon points="497.0,451.6 499.5,448.0 512.7,448.9 510.2,452.5" fill="#884593"/>
<polyline points="497.0,465.8 497.0,451.6 510.2,452.5 512.7,448.9" fill="none" stroke="#f4b8e4" stroke-opacity="0.5" stroke-width="0.6"/>
<line x1="510.2" y1="452.5" x2="510.2" y2="466.7" stroke="#f4b8e4" stroke-opacity="0.5" stroke-width="0.6"/>
<polygon points="239.9,440.4 253.1,441.3 253.1,455.5 239.9,454.6" fill="#7a3088"/>
<polygon points="253.1,441.3 255.6,437.7 255.6,451.9 253.1,455.5" fill="#582362"/>
<polygon points="239.9,440.4 242.4,436.8 255.6,437.7 253.1,441.3" fill="#884594"/>
<polyline points="239.9,454.6 239.9,440.4 253.1,441.3 255.6,437.7" fill="none" stroke="#f4b8e4" stroke-opacity="0.5" stroke-width="0.6"/>
<line x1="253.1" y1="441.3" x2="253.1" y2="455.5" stroke="#f4b8e4" stroke-opacity="0.5" stroke-width="0.6"/>
<polygon points="271.1,443.1 284.3,444.0 284.3,458.2 271.1,457.3" fill="#7d3286"/>
<polygon points="284.3,444.0 286.8,440.4 286.8,454.6 284.3,458.2" fill="#5a2461"/>
<polygon points="271.1,443.1 273.6,439.5 286.8,440.4 284.3,444.0" fill="#8a4692"/>
<polyline points="271.1,457.3 271.1,443.1 284.3,444.0 286.8,440.4" fill="none" stroke="#f4b8e4" stroke-opacity="0.5" stroke-width="0.6"/>
<line x1="284.3" y1="444.0" x2="284.3" y2="458.2" stroke="#f4b8e4" stroke-opacity="0.5" stroke-width="0.6"/>
<polygon points="302.3,445.8 315.5,446.7 315.5,460.9 302.3,460.0" fill="#91377c"/>
<polygon points="315.5,446.7 318.0,443.1 318.0,457.3 315.5,460.9" fill="#682859"/>
<polygon points="302.3,445.8 304.8,442.2 318.0,443.1 315.5,446.7" fill="#9c4b89"/>
<polyline points="302.3,460.0 302.3,445.8 315.5,446.7 318.0,443.1" fill="none" stroke="#f4b8e4" stroke-opacity="0.5" stroke-width="0.6"/>
<line x1="315.5" y1="446.7" x2="315.5" y2="460.9" stroke="#f4b8e4" stroke-opacity="0.5" stroke-width="0.6"/>
<polygon points="333.5,448.5 346.7,449.4 346.7,463.6 333.5,462.7" fill="#ae3d67"/>
<polygon points="346.7,449.4 349.2,445.8 349.2,460.0 346.7,463.6" fill="#7d2c4a"/>
<polygon points="333.5,448.5 336.0,444.9 349.2,445.8 346.7,449.4" fill="#b65076"/>
<polyline points="333.5,462.7 333.5,448.5 346.7,449.4 349.2,445.8" fill="none" stroke="#f4b8e4" stroke-opacity="0.5" stroke-width="0.6"/>
<line x1="346.7" y1="449.4" x2="346.7" y2="463.6" stroke="#f4b8e4" stroke-opacity="0.5" stroke-width="0.6"/>
<polygon points="364.7,451.3 377.9,452.2 377.9,466.4 364.7,465.5" fill="#b83f5e"/>
<polygon points="377.9,452.2 380.4,448.6 380.4,462.8 377.9,466.4" fill="#852d44"/>
<polygon points="364.7,451.3 367.2,447.7 380.4,448.6 377.9,452.2" fill="#bf526e"/>
<polyline points="364.7,465.5 364.7,451.3 377.9,452.2 380.4,448.6" fill="none" stroke="#f4b8e4" stroke-opacity="0.5" stroke-width="0.6"/>
<line x1="377.9" y1="452.2" x2="377.9" y2="466.4" stroke="#f4b8e4" stroke-opacity="0.5" stroke-width="0.6"/>
<polygon points="395.9,454.0 409.1,454.9 409.1,469.1 395.9,468.2" fill="#ae3d67"/>
<polygon points="409.1,454.9 411.6,451.3 411.6,465.5 409.1,469.1" fill="#7d2c4a"/>
<polygon points="395.9,454.0 398.4,450.4 411.6,451.3 409.1,454.9" fill="#b65076"/>
<polyline points="395.9,468.2 395.9,454.0 409.1,454.9 411.6,451.3" fill="none" stroke="#f4b8e4" stroke-opacity="0.5" stroke-width="0.6"/>
<line x1="409.1" y1="454.9" x2="409.1" y2="469.1" stroke="#f4b8e4" stroke-opacity="0.5" stroke-width="0.6"/>
<polygon points="427.1,456.7 440.3,457.6 440.3,471.8 427.1,470.9" fill="#91377c"/>
<polygon points="440.3,457.6 442.8,454.0 442.8,468.2 440.3,471.8" fill="#682859"/>
<polygon points="427.1,456.7 429.6,453.1 442.8,454.0 440.3,457.6" fill="#9c4b89"/>
<polyline points="427.1,470.9 427.1,456.7 440.3,457.6 442.8,454.0" fill="none" stroke="#f4b8e4" stroke-opacity="0.5" stroke-width="0.6"/>
<line x1="440.3" y1="457.6" x2="440.3" y2="471.8" stroke="#f4b8e4" stroke-opacity="0.5" stroke-width="0.6"/>
<polygon points="458.3,459.4 471.5,460.3 471.5,474.5 458.3,473.6" fill="#7d3286"/>
<polygon points="471.5,460.3 474.0,456.7 474.0,470.9 471.5,474.5" fill="#5a2461"/>
<polygon points="458.3,459.4 460.8,455.8 474.0,456.7 471.5,460.3" fill="#8a4692"/>
<polyline points="458.3,473.6 458.3,459.4 471.5,460.3 474.0,456.7" fill="none" stroke="#f4b8e4" stroke-opacity="0.5" stroke-width="0.6"/>
<line x1="471.5" y1="460.3" x2="471.5" y2="474.5" stroke="#f4b8e4" stroke-opacity="0.5" stroke-width="0.6"/>
<polygon points="489.5,462.1 502.7,463.0 502.7,477.2 489.5,476.3" fill="#7a3088"/>
<polygon points="502.7,463.0 505.2,459.4 505.2,473.6 502.7,477.2" fill="#582362"/>
<polygon points="489.5,462.1 492.0,458.5 505.2,459.4 502.7,463.0" fill="#884594"/>
<polyline points="489.5,476.3 489.5,462.1 502.7,463.0 505.2,459.4" fill="none" stroke="#f4b8e4" stroke-opacity="0.5" stroke-width="0.6"/>
<line x1="502.7" y1="463.0" x2="502.7" y2="477.2" stroke="#f4b8e4" stroke-opacity="0.5" stroke-width="0.6"/>
<polygon points="232.5,450.9 245.7,451.8 245.7,466.0 232.5,465.1" fill="#7a3088"/>
<polygon points="245.7,451.8 248.2,448.2 248.2,462.4 245.7,466.0" fill="#582362"/>
<polygon points="232.5,450.9 235.0,447.3 248.2,448.2 245.7,451.8" fill="#874594"/>
<polyline points="232.5,465.1 232.5,450.9 245.7,451.8 248.2,448.2" fill="none" stroke="#f4b8e4" stroke-opacity="0.5" stroke-width="0.6"/>
<line x1="245.7" y1="451.8" x2="245.7" y2="466.0" stroke="#f4b8e4" stroke-opacity="0.5" stroke-width="0.6"/>
<polygon points="263.7,453.7 276.9,454.6 276.9,468.8 263.7,467.9" fill="#7b3187"/>
<polygon points="276.9,454.6 279.4,451.0 279.4,465.2 276.9,468.8" fill="#592361"/>
<polygon points="263.7,453.7 266.2,450.1 279.4,451.0 276.9,454.6" fill="#894593"/>
<polyline points="263.7,467.9 263.7,453.7 276.9,454.6 279.4,451.0" fill="none" stroke="#f4b8e4" stroke-opacity="0.5" stroke-width="0.6"/>
<line x1="276.9" y1="454.6" x2="276.9" y2="468.8" stroke="#f4b8e4" stroke-opacity="0.5" stroke-width="0.6"/>
<polygon points="294.9,456.4 308.1,457.3 308.1,471.5 294.9,470.6" fill="#7e3286"/>
<polygon points="308.1,457.3 310.6,453.7 310.6,467.9 308.1,471.5" fill="#5a2461"/>
<polygon points="294.9,456.4 297.4,452.8 310.6,453.7 308.1,457.3" fill="#8b4692"/>
<polyline points="294.9,470.6 294.9,456.4 308.1,457.3 310.6,453.7" fill="none" stroke="#f4b8e4" stroke-opacity="0.5" stroke-width="0.6"/>
<line x1="308.1" y1="457.3" x2="308.1" y2="471.5" stroke="#f4b8e4" stroke-opacity="0.5" stroke-width="0.6"/>
<polygon points="326.1,459.1 339.3,460.0 339.3,474.2 326.1,473.3" fill="#8b367f"/>
<polygon points="339.3,460.0 341.8,456.4 341.8,470.6 339.3,474.2" fill="#64275b"/>
<polygon points="326.1,459.1 328.6,455.5 341.8,456.4 339.3,460.0" fill="#974a8c"/>
<polyline points="326.1,473.3 326.1,459.1 339.3,460.0 341.8,456.4" fill="none" stroke="#f4b8e4" stroke-opacity="0.5" stroke-width="0.6"/>
<line x1="339.3" y1="460.0" x2="339.3" y2="474.2" stroke="#f4b8e4" stroke-opacity="0.5" stroke-width="0.6"/>
<polygon points="357.3,461.8 370.5,462.7 370.5,476.9 357.3,476.0" fill="#91377b"/>
<polygon points="370.5,462.7 373.0,459.1 373.0,473.3 370.5,476.9" fill="#692859"/>
<polygon points="357.3,461.8 359.8,458.2 373.0,459.1 370.5,462.7" fill="#9c4b89"/>
<polyline points="357.3,476.0 357.3,461.8 370.5,462.7 373.0,459.1" fill="none" stroke="#f4b8e4" stroke-opacity="0.5" stroke-width="0.6"/>
<line x1="370.5" y1="462.7" x2="370.5" y2="476.9" stroke="#f4b8e4" stroke-opacity="0.5" stroke-width="0.6"/>
<polygon points="388.5,464.5 401.7,465.4 401.7,479.6 388.5,478.7" fill="#8b367f"/>
<polygon points="401.7,465.4 404.2,461.8 404.2,476.0 401.7,479.6" fill="#64275b"/>
<polygon points="388.5,464.5 391.0,460.9 404.2,461.8 401.7,465.4" fill="#974a8c"/>
<polyline points="388.5,478.7 388.5,464.5 401.7,465.4 404.2,461.8" fill="none" stroke="#f4b8e4" stroke-opacity="0.5" stroke-width="0.6"/>
<line x1="401.7" y1="465.4" x2="401.7" y2="479.6" stroke="#f4b8e4" stroke-opacity="0.5" stroke-width="0.6"/>
<polygon points="419.7,467.3 432.9,468.2 432.9,482.4 419.7,481.5" fill="#7e3286"/>
<polygon points="432.9,468.2 435.4,464.6 435.4,478.8 432.9,482.4" fill="#5a2461"/>
<polygon points="419.7,467.3 422.2,463.7 435.4,464.6 432.9,468.2" fill="#8b4692"/>
<polyline points="419.7,481.5 419.7,467.3 432.9,468.2 435.4,464.6" fill="none" stroke="#f4b8e4" stroke-opacity="0.5" stroke-width="0.6"/>
<line x1="432.9" y1="468.2" x2="432.9" y2="482.4" stroke="#f4b8e4" stroke-opacity="0.5" stroke-width="0.6"/>
<polygon points="450.9,470.0 464.1,470.9 464.1,485.1 450.9,484.2" fill="#7b3187"/>
<polygon points="464.1,470.9 466.6,467.3 466.6,481.5 464.1,485.1" fill="#592361"/>
<polygon points="450.9,470.0 453.4,466.4 466.6,467.3 464.1,470.9" fill="#894593"/>
<polyline points="450.9,484.2 450.9,470.0 464.1,470.9 466.6,467.3" fill="none" stroke="#f4b8e4" stroke-opacity="0.5" stroke-width="0.6"/>
<line x1="464.1" y1="470.9" x2="464.1" y2="485.1" stroke="#f4b8e4" stroke-opacity="0.5" stroke-width="0.6"/>
<polygon points="482.1,472.7 495.3,473.6 495.3,487.8 482.1,486.9" fill="#7a3088"/>
<polygon points="495.3,473.6 497.8,470.0 497.8,484.2 495.3,487.8" fill="#582362"/>
<polygon points="482.1,472.7 484.6,469.1 497.8,470.0 495.3,473.6" fill="#874594"/>
<polyline points="482.1,486.9 482.1,472.7 495.3,473.6 497.8,470.0" fill="none" stroke="#f4b8e4" stroke-opacity="0.5" stroke-width="0.6"/>
<line x1="495.3" y1="473.6" x2="495.3" y2="487.8" stroke="#f4b8e4" stroke-opacity="0.5" stroke-width="0.6"/>
<polygon points="225.0,461.5 238.2,462.4 238.2,476.6 225.0,475.7" fill="#7a3088"/>
<polygon points="238.2,462.4 240.7,458.8 240.7,473.0 238.2,476.6" fill="#582362"/>
<polygon points="225.0,461.5 227.5,457.9 240.7,458.8 238.2,462.4" fill="#874594"/>
<polyline points="225.0,475.7 225.0,461.5 238.2,462.4 240.7,458.8" fill="none" stroke="#f4b8e4" stroke-opacity="0.5" stroke-width="0.6"/>
<line x1="238.2" y1="462.4" x2="238.2" y2="476.6" stroke="#f4b8e4" stroke-opacity="0.5" stroke-width="0.6"/>
<polygon points="256.2,464.2 269.4,465.1 269.4,479.3 256.2,478.4" fill="#7a3088"/>
<polygon points="269.4,465.1 271.9,461.5 271.9,475.7 269.4,479.3" fill="#582362"/>
<polygon points="256.2,464.2 258.7,460.6 271.9,461.5 269.4,465.1" fill="#874594"/>
<polyline points="256.2,478.4 256.2,464.2 269.4,465.1 271.9,461.5" fill="none" stroke="#f4b8e4" stroke-opacity="0.5" stroke-width="0.6"/>
<line x1="269.4" y1="465.1" x2="269.4" y2="479.3" stroke="#f4b8e4" stroke-opacity="0.5" stroke-width="0.6"/>
<polygon points="287.4,466.9 300.6,467.8 300.6,482.0 287.4,481.1" fill="#7b3187"/>
<polygon points="300.6,467.8 303.1,464.2 303.1,478.4 300.6,482.0" fill="#592361"/>
<polygon points="287.4,466.9 289.9,463.3 303.1,464.2 300.6,467.8" fill="#894593"/>
<polyline points="287.4,481.1 287.4,466.9 300.6,467.8 303.1,464.2" fill="none" stroke="#f4b8e4" stroke-opacity="0.5" stroke-width="0.6"/>
<line x1="300.6" y1="467.8" x2="300.6" y2="482.0" stroke="#f4b8e4" stroke-opacity="0.5" stroke-width="0.6"/>
<polygon points="318.6,469.7 331.8,470.6 331.8,484.8 318.6,483.9" fill="#7d3187"/>
<polygon points="331.8,470.6 334.3,467.0 334.3,481.2 331.8,484.8" fill="#5a2361"/>
<polygon points="318.6,469.7 321.1,466.1 334.3,467.0 331.8,470.6" fill="#8a4693"/>
<polyline points="318.6,483.9 318.6,469.7 331.8,470.6 334.3,467.0" fill="none" stroke="#f4b8e4" stroke-opacity="0.5" stroke-width="0.6"/>
<line x1="331.8" y1="470.6" x2="331.8" y2="484.8" stroke="#f4b8e4" stroke-opacity="0.5" stroke-width="0.6"/>
<polygon points="349.8,472.4 363.0,473.3 363.0,487.5 349.8,486.6" fill="#7d3286"/>
<polygon points="363.0,473.3 365.5,469.7 365.5,483.9 363.0,487.5" fill="#5a2461"/>
<polygon points="349.8,472.4 352.3,468.8 365.5,469.7 363.0,473.3" fill="#8a4693"/>
<polyline points="349.8,486.6 349.8,472.4 363.0,473.3 365.5,469.7" fill="none" stroke="#f4b8e4" stroke-opacity="0.5" stroke-width="0.6"/>
<line x1="363.0" y1="473.3" x2="363.0" y2="487.5" stroke="#f4b8e4" stroke-opacity="0.5" stroke-width="0.6"/>
<polygon points="381.0,475.1 394.2,476.0 394.2,490.2 381.0,489.3" fill="#7d3187"/>
<polygon points="394.2,476.0 396.7,472.4 396.7,486.6 394.2,490.2" fill="#5a2361"/>
<polygon points="381.0,475.1 383.5,471.5 396.7,472.4 394.2,476.0" fill="#8a4693"/>
<polyline points="381.0,489.3 381.0,475.1 394.2,476.0 396.7,472.4" fill="none" stroke="#f4b8e4" stroke-opacity="0.5" stroke-width="0.6"/>
<line x1="394.2" y1="476.0" x2="394.2" y2="490.2" stroke="#f4b8e4" stroke-opacity="0.5" stroke-width="0.6"/>
<polygon points="412.2,477.8 425.4,478.7 425.4,492.9 412.2,492.0" fill="#7b3187"/>
<polygon points="425.4,478.7 427.9,475.1 427.9,489.3 425.4,492.9" fill="#592361"/>
<polygon points="412.2,477.8 414.7,474.2 427.9,475.1 425.4,478.7" fill="#894593"/>
<polyline points="412.2,492.0 412.2,477.8 425.4,478.7 427.9,475.1" fill="none" stroke="#f4b8e4" stroke-opacity="0.5" stroke-width="0.6"/>
<line x1="425.4" y1="478.7" x2="425.4" y2="492.9" stroke="#f4b8e4" stroke-opacity="0.5" stroke-width="0.6"/>
<polygon points="443.4,480.5 456.6,481.4 456.6,495.6 443.4,494.7" fill="#7a3088"/>
<polygon points="456.6,481.4 459.1,477.8 459.1,492.0 456.6,495.6" fill="#582362"/>
<polygon points="443.4,480.5 445.9,476.9 459.1,477.8 456.6,481.4" fill="#874594"/>
<polyline points="443.4,494.7 443.4,480.5 456.6,481.4 459.1,477.8" fill="none" stroke="#f4b8e4" stroke-opacity="0.5" stroke-width="0.6"/>
<line x1="456.6" y1="481.4" x2="456.6" y2="495.6" stroke="#f4b8e4" stroke-opacity="0.5" stroke-width="0.6"/>
<polygon points="474.6,483.3 487.8,484.2 487.8,498.4 474.6,497.5" fill="#7a3088"/>
<polygon points="487.8,484.2 490.3,480.6 490.3,494.8 487.8,498.4" fill="#582362"/>
<polygon points="474.6,483.3 477.1,479.7 490.3,480.6 487.8,484.2" fill="#874594"/>
<polyline points="474.6,497.5 474.6,483.3 487.8,484.2 490.3,480.6" fill="none" stroke="#f4b8e4" stroke-opacity="0.5" stroke-width="0.6"/>
<line x1="487.8" y1="484.2" x2="487.8" y2="498.4" stroke="#f4b8e4" stroke-opacity="0.5" stroke-width="0.6"/>
<polygon points="239.8,502.8 225.3,522.4 227.0,523.6 240.2,503.2" fill="#4a95cf"/>
<polygon points="222.0,529.0 224.2,517.7 226.2,523.0 231.8,523.0" fill="#4a95cf"/>
<polygon points="271.0,505.4 256.5,525.0 258.2,526.2 271.4,505.8" fill="#4a95cf"/>
<polygon points="253.2,531.6 255.4,520.3 257.4,525.6 263.0,525.6" fill="#4a95cf"/>
<polygon points="302.2,508.0 287.7,527.6 289.4,528.8 302.6,508.4" fill="#4a95cf"/>
<polygon points="284.4,534.2 286.6,522.9 288.6,528.2 294.2,528.2" fill="#4a95cf"/>
<polygon points="333.4,510.6 318.9,530.2 320.6,531.4 333.8,511.0" fill="#4a95cf"/>
<polygon points="315.6,536.8 317.8,525.5 319.8,530.8 325.4,530.8" fill="#4a95cf"/>
<polygon points="364.6,513.2 350.1,532.8 351.8,534.0 365.0,513.6" fill="#4a95cf"/>
<polygon points="346.8,539.4 349.0,528.1 351.0,533.4 356.6,533.4" fill="#4a95cf"/>
<polygon points="395.8,515.8 381.3,535.4 383.0,536.6 396.2,516.2" fill="#4a95cf"/>
<polygon points="378.0,542.0 380.2,530.7 382.2,536.0 387.8,536.0" fill="#4a95cf"/>
<polygon points="427.0,518.4 412.5,538.0 414.2,539.2 427.4,518.8" fill="#4a95cf"/>
<polygon points="409.2,544.6 411.4,533.3 413.4,538.6 419.0,538.6" fill="#4a95cf"/>
<polygon points="458.2,521.0 443.7,540.6 445.4,541.8 458.6,521.4" fill="#4a95cf"/>
<polygon points="440.4,547.2 442.6,535.9 444.6,541.2 450.2,541.2" fill="#4a95cf"/>
<polygon points="500.0,505.0 524.1,507.5 524.3,505.5 500.0,504.4" fill="#4a95cf"/>
<polygon points="531.5,507.0 520.7,510.8 524.2,506.5 521.4,501.6" fill="#4a95cf"/>
<polygon points="507.4,494.3 531.6,496.8 531.7,494.8 507.5,493.7" fill="#4a95cf"/>
<polygon points="538.9,496.3 528.1,500.2 531.6,495.8 528.8,491.0" fill="#4a95cf"/>
<polygon points="514.8,483.7 539.0,486.1 539.2,484.1 514.9,483.1" fill="#4a95cf"/>
<polygon points="546.4,485.7 535.6,489.5 539.1,485.1 536.2,480.3" fill="#4a95cf"/>
<polygon points="522.3,473.0 546.4,475.5 546.6,473.5 522.3,472.4" fill="#4a95cf"/>
<polygon points="553.8,475.0 543.0,478.8 546.5,474.5 543.7,469.6" fill="#4a95cf"/>
<polygon points="529.7,462.3 553.9,464.8 554.0,462.8 529.7,461.7" fill="#4a95cf"/>
<polygon points="561.2,464.3 550.4,468.1 553.9,463.8 551.1,459.0" fill="#4a95cf"/>
<polygon points="537.1,451.6 561.3,454.1 561.4,452.1 537.2,451.1" fill="#4a95cf"/>
<polygon points="568.6,453.6 557.8,457.5 561.4,453.1 558.5,448.3" fill="#4a95cf"/>
<polygon points="544.6,441.0 568.7,443.4 568.9,441.5 544.6,440.4" fill="#4a95cf"/>
<polygon points="576.1,443.0 565.3,446.8 568.8,442.4 565.9,437.6" fill="#4a95cf"/>
<polygon points="552.0,430.3 576.2,432.8 576.3,430.8 552.0,429.7" fill="#4a95cf"/>
<polygon points="583.5,432.3 572.7,436.1 576.2,431.8 573.4,427.0" fill="#4a95cf"/>
<line x1="291.7" y1="350" x2="291.7" y2="371" stroke="#555" stroke-width="0.9"/>
<polyline points="407.2,366.7 406.7,381.7 383,416.7" fill="none" stroke="#333" stroke-width="0.9"/>
<line x1="493.3" y1="366.7" x2="493.3" y2="401.7" stroke="#555" stroke-width="0.9"/>
<text x="21.0" y="34.5" font-size="22" font-weight="900" fill="#231f20" stroke="#231f20" stroke-width="0.6" transform="translate(21.0 0) scale(1.18 1) translate(-21.0 0)">a</text>
<text x="46.5" y="34.3" font-size="19.5" font-weight="700" fill="#231f20" textLength="139.7" lengthAdjust="spacingAndGlyphs" stroke="#231f20" stroke-width="0.35">Smooth surface</text>
<text x="418.9" y="34.4" font-size="18.3" font-weight="400" fill="#231f20" textLength="108.8" lengthAdjust="spacingAndGlyphs">Boiling crisis</text>
<text x="129.5" y="81.6" font-size="18.3" font-weight="400" fill="#231f20" textLength="63.6" lengthAdjust="spacingAndGlyphs">Droplet</text>
<text x="264.5" y="81.6" font-size="18.3" font-weight="400" fill="#231f20" textLength="62.0" lengthAdjust="spacingAndGlyphs">Critical</text>
<text x="264.5" y="103" font-size="18.3" font-weight="400" fill="#231f20" textLength="101.5" lengthAdjust="spacingAndGlyphs">cooling rate</text>
<text x="417.3" y="81.3" font-size="18.3" font-weight="400" fill="#231f20" textLength="96.9" lengthAdjust="spacingAndGlyphs">Leidenfrost</text>
<text x="418.3" y="103.1" font-size="18.3" font-weight="400" fill="#231f20" textLength="45.1" lengthAdjust="spacingAndGlyphs">point</text>
<text x="110.5" y="169" font-size="18.3" font-weight="400" fill="#ffffff" textLength="105.1" lengthAdjust="spacingAndGlyphs" stroke="#fff" stroke-width="0.3">Cooling rate</text>
<text x="676.8" y="153" font-size="18.3" font-weight="400" fill="#231f20" textLength="59.7" lengthAdjust="spacingAndGlyphs">Vapour</text>
<text x="84.0" y="245" font-size="18.3" font-weight="400" fill="#231f20" textLength="66.0" lengthAdjust="spacingAndGlyphs">Surface</text>
<text x="85.0" y="265.5" font-size="18.3" font-weight="400" fill="#231f20" textLength="104.4" lengthAdjust="spacingAndGlyphs">temperature</text>
<text x="84.0" y="287" font-size="18.3" font-weight="400" fill="#231f20" textLength="53.6" lengthAdjust="spacingAndGlyphs">110 °C</text>
<text x="582.4" y="277.5" font-size="18.3" font-weight="400" fill="#231f20" textLength="68.9" lengthAdjust="spacingAndGlyphs">1,100 °C</text>
<text x="24.6" y="333" font-size="22" font-weight="900" fill="#231f20" stroke="#231f20" stroke-width="0.6" transform="translate(24.6 0) scale(1.18 1) translate(-24.6 0)">b</text>
<text x="50.0" y="332.9" font-size="19.5" font-weight="700" fill="#231f20" textLength="167.7" lengthAdjust="spacingAndGlyphs" stroke="#231f20" stroke-width="0.35">Structured surface</text>
<text x="264.8" y="337.3" font-size="18.3" font-weight="400" fill="#231f20" textLength="101.0" lengthAdjust="spacingAndGlyphs">Micropillars</text>
<text x="387.2" y="337.3" font-size="18.3" font-weight="400" fill="#231f20" textLength="82.0" lengthAdjust="spacingAndGlyphs">Absorbed</text>
<text x="386.1" y="357.8" font-size="18.3" font-weight="400" fill="#231f20" textLength="61.2" lengthAdjust="spacingAndGlyphs">droplet</text>
<text x="484.3" y="337.3" font-size="18.3" font-weight="400" fill="#231f20" textLength="85.6" lengthAdjust="spacingAndGlyphs">Insulating</text>
<text x="485.4" y="357.8" font-size="18.3" font-weight="400" fill="#231f20" textLength="47.1" lengthAdjust="spacingAndGlyphs">mesh</text>
<text x="522.2" y="533.2" font-size="18.3" font-weight="400" fill="#231f20" textLength="59.7" lengthAdjust="spacingAndGlyphs">Vapour</text>
<text x="521.2" y="554.7" font-size="18.3" font-weight="400" fill="#231f20" textLength="76.3" lengthAdjust="spacingAndGlyphs">channels</text>
<text x="661.3" y="592.3" style="font-family:'Liberation Serif',serif" font-size="15.5" font-weight="700" fill="#a9a9a9" stroke="#a9a9a9" stroke-width="0.5">©</text>
<text x="674.3" y="592.5" style="font-family:'Liberation Serif',serif" font-size="20" font-weight="700" fill="#a9a9a9" stroke="#a9a9a9" stroke-width="0.6" textLength="57" lengthAdjust="spacingAndGlyphs">nature</text>
</svg></body></html>
